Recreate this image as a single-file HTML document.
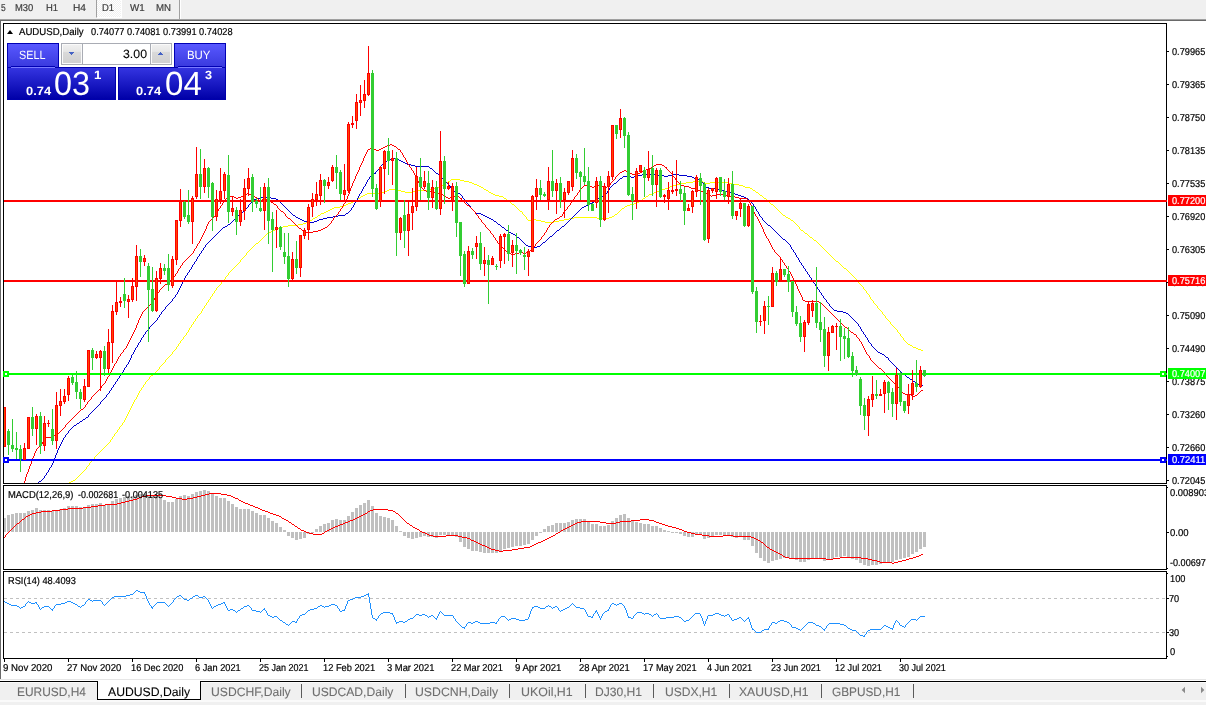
<!DOCTYPE html>
<html><head><meta charset="utf-8"><title>AUDUSD,Daily</title>
<style>
html,body{margin:0;padding:0;background:#fff;}
body{width:1206px;height:705px;position:relative;overflow:hidden;font-family:"Liberation Sans",sans-serif;color:#000;}
div{position:absolute;white-space:nowrap;}
#tb{left:0;top:0;width:1206px;height:19px;background:#f0f0f0;}
#tbl1{left:0;top:19px;width:1206px;height:1px;background:#a0a0a0;}
#tbl2{left:0;top:20px;width:1206px;height:1px;background:#696969;}
#lb{left:0;top:20px;width:1px;height:659px;background:#696969;}
.tf{top:2px;font-size:10.5px;color:#3c3c3c;line-height:12px;}
#d1{left:96px;top:0;width:26px;height:18px;background:repeating-conic-gradient(#fff 0% 25%,#f0f0f0 0% 50%) 0 0/2px 2px;border-left:1px solid #a0a0a0;border-right:1px solid #fff;border-bottom:1px solid #fff;box-sizing:border-box;}
#tsep{left:179px;top:0;width:1px;height:19px;background:#a0a0a0;}
#tsep2{left:180px;top:0;width:1px;height:19px;background:#fff;}
svg{position:absolute;left:0;top:0;}
.t{-webkit-text-stroke:0.2px currentColor;text-rendering:geometricPrecision;}
.ax{left:1172px;font-size:9.5px;line-height:12px;height:12px;}
.ax2{left:1170px;}
.axb{left:1168px;width:38px;height:11px;color:#fff;}
.axb span{position:absolute;left:4px;top:-0.5px;font-size:9.5px;line-height:12px;}
.dt{top:662px;font-size:9.5px;line-height:12px;}
#title{left:20px;top:26px;font-size:10px;line-height:12px;}
#tri{left:6.8px;top:29.8px;width:0;height:0;border-left:3.7px solid transparent;border-right:3.7px solid transparent;border-bottom:4.2px solid #000;}
#macdt{left:9px;top:489px;font-size:10px;line-height:12px;}
#rsit{left:9px;top:575px;font-size:10px;line-height:12px;}
#tabbar{left:0;top:679px;width:1206px;height:26px;background:#f0f0f0;border-top:1px solid #e6e6e6;box-sizing:border-box;}
#tabgap{left:0;top:680px;width:1206px;height:1px;background:#fff;}
#tabhl{left:0;top:682px;width:1206px;height:1px;background:#fbfbfb;}
#tabbot{left:0;top:700px;width:1206px;height:2px;background:#fafafa;}
#tabline{left:0;top:681px;width:1206px;height:1px;background:#000;}
#tableft{left:0;top:681px;width:1px;height:18px;background:#696969;}
.tab{top:683px;height:16px;font-size:11.5px;line-height:16px;color:#7a7a7a;text-align:center;}
.tab span{display:inline-block;}
.sep{top:684px;width:1px;height:14px;background:#5a5a5a;}
#atab{left:97px;top:681px;width:104px;height:19px;background:#fff;border:1px solid #000;border-top:none;box-sizing:border-box;}
#atabtop{left:98px;top:680px;width:102px;height:2px;background:#fff;}
#atabt{left:108px;top:683px;font-size:11.5px;line-height:16px;color:#000;}
.arr{top:686px;width:0;height:0;border-top:4px solid transparent;border-bottom:4px solid transparent;}
/* trade panel */
#sellb{left:7px;top:43px;width:52px;height:25px;background:linear-gradient(#5858ff,#3838dc);border:1px solid #0000b4;border-bottom:none;box-sizing:border-box;}
#buyb{left:174px;top:43px;width:52px;height:25px;background:linear-gradient(#5858ff,#3838dc);border:1px solid #0000b4;border-bottom:none;box-sizing:border-box;}
#sellp{left:7px;top:67px;width:109px;height:33px;background:linear-gradient(#3434e0,#0000a8);border:1px solid #0000ac;box-sizing:border-box;}
#buyp{left:118px;top:67px;width:108px;height:33px;background:linear-gradient(#3434e0,#0000a8);border:1px solid #0000ac;box-sizing:border-box;}
.pl{height:1px;background:#7a7aff;top:67px;border-top:1px solid #0000b4;margin-top:-1px;}
.bt{color:#fff;font-size:11.5px;line-height:14px;top:48px;}
.sm{color:#fff;font-weight:bold;font-size:12px;line-height:14px;top:84px;}
.big{color:#fff;font-size:33px;line-height:34px;top:65px;transform-origin:0 0;transform:scaleX(0.88);}
.sup{color:#fff;font-weight:bold;font-size:10px;line-height:12px;top:69px;}
#spin{left:61px;top:43px;width:111px;height:22px;background:#fff;border:1px solid #a9acb4;box-sizing:border-box;}
.sbtn{top:44px;width:20px;height:20px;background:linear-gradient(#f0f0f0,#e6e6e6 36%,#dadada 37%,#d0d0d0);border:1px solid #fafafa;box-sizing:border-box;}
.ssep{top:44px;width:1px;height:20px;background:#a9acb4;}
#vol{left:100px;width:47px;text-align:right;top:46px;font-size:12px;line-height:14px;}
</style></head><body>
<div id="tb"></div><div id="tbl1"></div><div id="tbl2"></div><div id="lb"></div>
<div id="d1"></div><div id="tsep"></div><div id="tsep2"></div>
<svg width="1206" height="705" viewBox="0 0 1206 705">
<defs><clipPath id="cm"><rect x="4" y="24" width="1162" height="459"/></clipPath></defs>
<g clip-path="url(#cm)" shape-rendering="crispEdges">
<path d="M63 485.5h2M65 484.5h2M67 483.5h2M69 482.5h2M71 481.5h2M73 480.5h2M75 479.5h1M76 478.5h1M77 477.5h1M78 476.5h1M79 475.5h1M80 474.5h1M81 473.5h1M82 472.5h1M83 471.5h1M84 470.5h1M85 469.5h1M86.5 467v2M87 466.5h1M88 465.5h1M89.5 463v2M90 462.5h1M91 461.5h1M92 460.5h1M93 459.5h1M94.5 457v2M95 456.5h1M96 455.5h1M97 454.5h1M98 453.5h1M99 452.5h1M100 451.5h1M101 450.5h1M102 449.5h1M103 448.5h1M104 447.5h1M105 446.5h1M106 445.5h1M107 444.5h1M108 443.5h1M109 442.5h1M110.5 440v2M111 439.5h1M112.5 437v2M113 436.5h1M114.5 434v2M115 433.5h1M116 432.5h1M117.5 430v2M118 429.5h1M119.5 427v2M120 426.5h1M121 425.5h1M122.5 423v2M123 422.5h1M124.5 420v2M125.5 418v2M126.5 416v2M127.5 414v2M128.5 412v2M129.5 410v2M130.5 408v2M131.5 406v2M132.5 404v2M133.5 402v2M134.5 400v2M135 399.5h1M136.5 397v2M137.5 395v2M138.5 393v2M139.5 391v2M140 390.5h1M141.5 388v2M142 387.5h1M143.5 385v2M144 384.5h1M145.5 382v2M146 381.5h1M147 380.5h1M148 379.5h1M149.5 377v2M150 376.5h1M151 375.5h2M153 374.5h1M154 373.5h1M155 372.5h1M156 371.5h1M157 370.5h1M158 369.5h1M159.5 367v2M160 366.5h1M161 365.5h1M162 364.5h1M163 363.5h1M164 362.5h1M165.5 360v2M166 359.5h1M167 358.5h1M168 357.5h1M169 356.5h1M170 355.5h1M171 354.5h1M172.5 352v2M173 351.5h1M174 350.5h1M175 349.5h1M176.5 347v2M177 346.5h1M178.5 344v2M179 343.5h1M180.5 341v2M181 340.5h1M182 339.5h1M183.5 337v2M184 336.5h1M185 335.5h1M186.5 333v2M187 332.5h1M188.5 330v2M189.5 328v2M190 327.5h1M191.5 325v2M192 324.5h1M193.5 322v2M194 321.5h1M195.5 319v2M196 318.5h1M197.5 316v2M198 315.5h1M199 314.5h1M200 313.5h1M201.5 311v2M202.5 309v2M203 308.5h1M204.5 306v2M205 305.5h1M206.5 303v2M207 302.5h1M208.5 300v2M209 299.5h1M210.5 297v2M211 296.5h1M212.5 294v2M213 293.5h1M214.5 291v2M215 290.5h1M216.5 288v2M217 287.5h1M218 286.5h1M219 285.5h1M220 284.5h1M221.5 282v2M222 281.5h1M223 280.5h1M224 279.5h1M225.5 277v2M226 276.5h1M227 275.5h1M228.5 273v2M229 272.5h1M230 271.5h1M231 270.5h1M232 269.5h1M233 268.5h1M234 267.5h1M235 266.5h1M236 265.5h1M237 264.5h1M238 263.5h1M239 262.5h1M240.5 260v2M241 259.5h1M242 258.5h1M243 257.5h1M244 256.5h1M245 255.5h1M246.5 253v2M247 252.5h1M248 251.5h1M249 250.5h1M250 249.5h1M251 248.5h1M252 247.5h1M253 246.5h1M254 245.5h1M255 244.5h1M256 243.5h2M258 242.5h1M259 241.5h1M260 240.5h1M261 239.5h1M262 238.5h1M263 237.5h1M264 236.5h1M265 235.5h1M266 234.5h1M267 233.5h2M269 232.5h2M271 231.5h2M273 230.5h2M275 229.5h2M277 228.5h3M280 227.5h3M283 226.5h5M288 225.5h10M298 224.5h5M303 223.5h3M306 222.5h2M308 221.5h2M310 220.5h2M312 219.5h1M313 218.5h2M315 217.5h2M317 216.5h1M318 215.5h2M320 214.5h1M321 213.5h3M324 212.5h2M326 211.5h2M328 210.5h2M330 209.5h2M332 208.5h2M334 207.5h6M340 206.5h4M344 205.5h2M346 204.5h2M348 203.5h3M351 202.5h2M353 201.5h2M355 200.5h2M357 199.5h1M358 198.5h2M360 197.5h1M361 196.5h2M363 195.5h2M365 194.5h2M367 193.5h14M381 192.5h4M385 191.5h2M387 190.5h2M389 189.5h9M398 190.5h3M401 191.5h4M405 192.5h7M412 191.5h3M415 190.5h14M429 189.5h4M433 188.5h4M437 187.5h3M440 186.5h2M442 185.5h1M443 184.5h2M445 183.5h1M446 182.5h2M448 181.5h2M450 180.5h1M451 179.5h9M460 180.5h4M464 181.5h5M469 182.5h3M472 183.5h2M474 184.5h3M477 185.5h2M479 186.5h2M481 187.5h2M483 188.5h1M484 189.5h2M486 190.5h2M488 191.5h1M489 192.5h2M491 193.5h2M493 194.5h2M495 195.5h4M499 196.5h4M503 197.5h1M504 198.5h2M506 199.5h1M507 200.5h1M508 201.5h2M510 202.5h1M511 203.5h1M512 204.5h2M514 205.5h1M515 206.5h1M516 207.5h1M517 208.5h1M518 209.5h1M519 210.5h1M520 211.5h2M522.5 212v2M523 214.5h1M524 215.5h1M525 216.5h1M526.5 217v2M527 219.5h1M528 220.5h5M533 219.5h3M536 220.5h5M541 221.5h4M545 222.5h9M554 221.5h5M559 220.5h5M564 219.5h5M569 218.5h5M574 217.5h23M597 218.5h12M609 217.5h3M612 216.5h2M614 215.5h1M615 214.5h2M617 213.5h1M618 212.5h1M619 211.5h1M620 210.5h1M621 209.5h1M622 208.5h2M624 207.5h1M625 206.5h2M627 205.5h3M630 204.5h4M634 203.5h3M637 202.5h2M639 201.5h2M641 200.5h1M642 199.5h1M643 198.5h2M645 197.5h1M646 196.5h2M648 195.5h1M649 194.5h3M652 193.5h2M654 192.5h3M657 191.5h3M660 190.5h2M662 189.5h3M665 188.5h3M668 187.5h2M670 186.5h3M673 185.5h3M676 184.5h4M680 183.5h6M686 182.5h7M693 181.5h10M703 182.5h2M705 183.5h5M710 182.5h18M728 183.5h5M733 184.5h6M739 185.5h4M743 186.5h2M745 187.5h5M750 188.5h2M752 189.5h1M753 190.5h2M755 191.5h1M756 192.5h2M758 193.5h1M759 194.5h1M760 195.5h2M762 196.5h1M763 197.5h1M764 198.5h2M766 199.5h1M767 200.5h1M768 201.5h1M769 202.5h1M770 203.5h1M771 204.5h2M773 205.5h1M774 206.5h1M775 207.5h1M776 208.5h1M777 209.5h1M778 210.5h1M779 211.5h1M780 212.5h1M781 213.5h1M782 214.5h1M783 215.5h2M785 216.5h1M786 217.5h2M788 218.5h2M790 219.5h1M791 220.5h2M793 221.5h1M794 222.5h1M795 223.5h1M796 224.5h1M797 225.5h1M798 226.5h1M799.5 227v2M800 229.5h1M801 230.5h2M803 231.5h1M804 232.5h1M805 233.5h2M807 234.5h1M808 235.5h1M809 236.5h1M810 237.5h2M812 238.5h1M813 239.5h1M814 240.5h2M816 241.5h1M817 242.5h1M818 243.5h1M819 244.5h1M820 245.5h1M821 246.5h1M822 247.5h1M823 248.5h1M824 249.5h1M825 250.5h1M826 251.5h1M827 252.5h1M828 253.5h1M829 254.5h1M830 255.5h1M831 256.5h1M832 257.5h1M833 258.5h1M834 259.5h1M835 260.5h1M836 261.5h2M838 262.5h1M839 263.5h1M840 264.5h1M841 265.5h1M842 266.5h1M843 267.5h1M844 268.5h2M846 269.5h1M847 270.5h1M848 271.5h1M849 272.5h1M850 273.5h1M851 274.5h1M852 275.5h1M853 276.5h1M854 277.5h1M855 278.5h1M856.5 279v2M857 281.5h1M858 282.5h1M859 283.5h1M860 284.5h1M861 285.5h1M862 286.5h1M863.5 287v2M864 289.5h1M865 290.5h1M866.5 291v2M867 293.5h1M868 294.5h1M869.5 295v2M870.5 297v2M871 299.5h1M872 300.5h1M873.5 301v2M874 303.5h1M875 304.5h1M876 305.5h1M877.5 306v2M878 308.5h1M879 309.5h1M880 310.5h1M881 311.5h1M882.5 312v2M883 314.5h1M884 315.5h1M885.5 316v2M886 318.5h1M887 319.5h1M888 320.5h1M889 321.5h1M890.5 322v2M891 324.5h1M892 325.5h1M893 326.5h1M894 327.5h1M895 328.5h1M896 329.5h1M897.5 330v2M898 332.5h1M899 333.5h1M900.5 334v2M901 336.5h1M902 337.5h1M903.5 338v2M904 340.5h1M905 341.5h1M906 342.5h1M907 343.5h1M908 344.5h2M910 345.5h2M912 346.5h1M913 347.5h3M916 348.5h2M918 349.5h3M921 350.5h2" fill="none" stroke="#ffff00" stroke-width="1"/>
<path d="M35 485.5h1M36 484.5h1M37 483.5h1M38 482.5h1M39 481.5h2M41 480.5h1M42 479.5h1M43 478.5h1M44.5 476v2M45 475.5h1M46.5 473v2M47 472.5h1M48.5 470v2M49.5 468v2M50 467.5h1M51.5 465v2M52.5 463v2M53.5 461v2M54.5 458v3M55.5 455v3M56.5 453v2M57.5 450v3M58.5 448v2M59.5 446v2M60.5 444v2M61.5 442v2M62.5 440v2M63.5 438v2M64 437.5h1M65.5 435v2M66 434.5h1M67 433.5h1M68.5 431v2M69 430.5h1M70 429.5h1M71 428.5h1M72 427.5h1M73 426.5h1M74 425.5h2M76 424.5h1M77 423.5h2M79 422.5h1M80 421.5h2M82 420.5h1M83 419.5h2M85 418.5h1M86 417.5h2M88.5 415v2M89 414.5h1M90 413.5h1M91 412.5h1M92 411.5h1M93 410.5h1M94 409.5h1M95 408.5h1M96 407.5h1M97 406.5h1M98 405.5h1M99 404.5h1M100.5 402v2M101 401.5h1M102 400.5h1M103 399.5h1M104 398.5h1M105 397.5h1M106.5 395v2M107 394.5h1M108 393.5h1M109.5 391v2M110 390.5h1M111.5 388v2M112 387.5h1M113.5 385v2M114 384.5h1M115.5 382v2M116 381.5h1M117.5 379v2M118 378.5h1M119.5 376v2M120 375.5h1M121.5 373v2M122 372.5h1M123.5 370v2M124.5 368v2M125 367.5h1M126.5 365v2M127 364.5h1M128.5 362v2M129.5 360v2M130.5 358v2M131.5 355v3M132 354.5h1M133.5 352v2M134.5 350v2M135.5 348v2M136 347.5h1M137.5 345v2M138.5 343v2M139 342.5h1M140.5 340v2M141.5 338v2M142 337.5h1M143.5 335v2M144 334.5h1M145.5 332v2M146 331.5h1M147 330.5h1M148 329.5h1M149.5 327v2M150 326.5h1M151 325.5h1M152 324.5h1M153 323.5h1M154 322.5h1M155 321.5h1M156 320.5h1M157.5 318v2M158 317.5h1M159.5 315v2M160 314.5h1M161.5 312v2M162 311.5h1M163 310.5h1M164 309.5h1M165.5 307v2M166 306.5h1M167 305.5h1M168 304.5h1M169 303.5h1M170 302.5h1M171 301.5h1M172.5 299v2M173 298.5h1M174 297.5h1M175.5 295v2M176 294.5h1M177.5 292v2M178.5 290v2M179.5 288v2M180.5 286v2M181.5 284v2M182.5 282v2M183.5 280v2M184.5 278v2M185.5 276v2M186 275.5h1M187.5 273v2M188 272.5h1M189.5 270v2M190 269.5h1M191.5 267v2M192.5 265v2M193 264.5h1M194.5 262v2M195 261.5h1M196.5 259v2M197.5 257v2M198 256.5h1M199.5 254v2M200 253.5h1M201.5 251v2M202 250.5h1M203.5 248v2M204 247.5h1M205.5 245v2M206 244.5h1M207 243.5h1M208 242.5h1M209 241.5h1M210 240.5h1M211 239.5h1M212 238.5h1M213 237.5h1M214 236.5h1M215 235.5h1M216 234.5h1M217 233.5h1M218 232.5h1M219 231.5h1M220 230.5h1M221 229.5h1M222 228.5h1M223 227.5h2M225 226.5h2M227 225.5h1M228 224.5h2M230 223.5h1M231 222.5h1M232 221.5h1M233 220.5h1M234 219.5h2M236.5 217v2M237 216.5h1M238 215.5h1M239 214.5h1M240 213.5h1M241 212.5h2M243 211.5h1M244 210.5h1M245 209.5h1M246 208.5h1M247 207.5h1M248.5 205v2M249 204.5h1M250 203.5h1M251 202.5h1M252 201.5h1M253 200.5h1M254 199.5h2M256 198.5h4M260 197.5h11M271 198.5h5M276 199.5h2M278 200.5h1M279 201.5h1M280 202.5h1M281 203.5h1M282 204.5h1M283 205.5h1M284 206.5h1M285 207.5h1M286 208.5h1M287 209.5h1M288 210.5h1M289 211.5h1M290 212.5h1M291 213.5h1M292 214.5h1M293 215.5h2M295 216.5h1M296 217.5h2M298 218.5h2M300 219.5h2M302 220.5h2M304 221.5h4M308 222.5h6M314 221.5h3M317 220.5h2M319 219.5h4M323 218.5h4M327 217.5h6M333 216.5h5M338 215.5h7M345 214.5h1M346 213.5h2M348 212.5h1M349 211.5h1M350 210.5h1M351.5 208v2M352 207.5h1M353.5 205v2M354.5 203v2M355 202.5h1M356.5 200v2M357.5 198v2M358.5 196v2M359.5 194v2M360 193.5h1M361.5 191v2M362.5 189v2M363.5 187v2M364 186.5h1M365.5 184v2M366.5 182v2M367.5 180v2M368 179.5h1M369.5 177v2M370 176.5h2M372 175.5h1M373 174.5h1M374 173.5h1M375.5 172v2M376 171.5h1M377 170.5h1M378 169.5h1M379.5 167v2M380 166.5h1M381 165.5h1M382 164.5h1M383 163.5h1M384 162.5h1M385 161.5h2M387 160.5h2M389 159.5h2M391 158.5h6M397 159.5h2M399 160.5h2M401 161.5h2M403 162.5h2M405 163.5h2M407 164.5h4M411 165.5h4M415 166.5h14M429 167.5h1M430 168.5h2M432 169.5h1M433 170.5h1M434 171.5h1M435 172.5h1M436 173.5h2M438 174.5h1M439 175.5h1M440 176.5h1M441 177.5h1M442 178.5h1M443 179.5h1M444 180.5h1M445 181.5h1M446 182.5h1M447 183.5h1M448 184.5h1M449 185.5h1M450.5 186v2M451 188.5h1M452 189.5h1M453 190.5h1M454 191.5h1M455 192.5h3M458 193.5h2M460 194.5h1M461 195.5h1M462.5 196v2M463 198.5h1M464 199.5h1M465.5 200v2M466 202.5h1M467 203.5h1M468 204.5h1M469 205.5h1M470.5 206v2M471 208.5h1M472 209.5h1M473 210.5h1M474 211.5h1M475 212.5h1M476 213.5h5M481 214.5h2M483 215.5h2M485 216.5h2M487 217.5h2M489 218.5h2M491 219.5h2M493 220.5h1M494 221.5h2M496 222.5h1M497 223.5h1M498 224.5h2M500 225.5h1M501 226.5h1M502 227.5h2M504 228.5h1M505 229.5h1M506 230.5h2M508 231.5h1M509 232.5h2M511 233.5h2M513 234.5h2M515 235.5h1M516 236.5h1M517 237.5h2M519 238.5h1M520 239.5h1M521 240.5h1M522 241.5h1M523 242.5h1M524 243.5h1M525 244.5h1M526 245.5h2M528 246.5h6M534 247.5h3M537 246.5h3M540 245.5h1M541 244.5h1M542 243.5h1M543 242.5h2M545 241.5h1M546 240.5h1M547 239.5h1M548 238.5h1M549 237.5h1M550 236.5h2M552 235.5h1M553 234.5h1M554 233.5h1M555 232.5h1M556 231.5h1M557 230.5h2M559 229.5h1M560 228.5h1M561 227.5h1M562 226.5h2M564 225.5h1M565 224.5h1M566 223.5h1M567 222.5h1M568 221.5h1M569 220.5h1M570 219.5h1M571 218.5h1M572 217.5h1M573 216.5h1M574 215.5h1M575 214.5h1M576 213.5h1M577 212.5h1M578 211.5h1M579 210.5h1M580 209.5h1M581 208.5h1M582 207.5h2M584 206.5h2M586 205.5h2M588 204.5h2M590 203.5h2M592 202.5h2M594 201.5h1M595 200.5h1M596 199.5h2M598 198.5h1M599 197.5h2M601 196.5h2M603 195.5h2M605 194.5h1M606 193.5h1M607.5 191v2M608 190.5h1M609.5 188v2M610 187.5h1M611 186.5h1M612 185.5h1M613 184.5h1M614 183.5h2M616 182.5h1M617 181.5h1M618 180.5h1M619 179.5h1M620 178.5h2M622 177.5h1M623 176.5h8M631 177.5h3M634 176.5h2M636 175.5h6M642 174.5h16M658 175.5h6M664 176.5h4M668 175.5h5M673 174.5h6M679 175.5h8M687 176.5h5M692 177.5h2M694 178.5h3M697 179.5h2M699 180.5h2M701 181.5h1M702 182.5h1M703 183.5h1M704.5 184v2M705 186.5h1M706 187.5h3M709 188.5h8M717 189.5h4M721 190.5h4M725 191.5h4M729 192.5h3M732 193.5h3M735 194.5h3M738 195.5h3M741 196.5h3M744 197.5h2M746 198.5h2M748 199.5h1M749 200.5h1M750 201.5h1M751 202.5h1M752 203.5h1M753.5 204v2M754 206.5h1M755.5 207v2M756.5 209v2M757 211.5h1M758.5 212v2M759.5 214v2M760 216.5h1M761 217.5h1M762.5 218v2M763 220.5h1M764 221.5h1M765 222.5h1M766 223.5h1M767 224.5h1M768 225.5h2M770 226.5h1M771 227.5h1M772 228.5h1M773 229.5h1M774 230.5h1M775 231.5h1M776 232.5h1M777 233.5h1M778 234.5h1M779 235.5h1M780 236.5h1M781 237.5h1M782 238.5h1M783 239.5h2M785 240.5h1M786 241.5h1M787 242.5h1M788 243.5h1M789 244.5h1M790.5 245v2M791.5 247v2M792 249.5h1M793.5 250v2M794 252.5h1M795.5 253v2M796.5 255v2M797 257.5h1M798.5 258v2M799.5 260v2M800 262.5h1M801.5 263v2M802 265.5h1M803.5 266v2M804 268.5h1M805.5 269v2M806 271.5h1M807.5 272v2M808 274.5h1M809.5 275v2M810 277.5h1M811.5 278v2M812 280.5h1M813.5 281v2M814 283.5h1M815.5 284v2M816 286.5h1M817.5 287v2M818 289.5h1M819.5 290v2M820 292.5h1M821.5 293v2M822 295.5h1M823.5 296v2M824 298.5h1M825 299.5h1M826.5 300v2M827 302.5h1M828 303.5h1M829.5 304v2M830 306.5h1M831 307.5h1M832 308.5h1M833 309.5h1M834 310.5h3M837 311.5h6M843 312.5h3M846 313.5h2M848 314.5h1M849 315.5h1M850 316.5h1M851 317.5h1M852 318.5h1M853 319.5h1M854 320.5h1M855 321.5h1M856 322.5h1M857 323.5h1M858.5 324v2M859 326.5h1M860.5 327v2M861.5 329v2M862 331.5h1M863.5 332v2M864 334.5h1M865.5 335v2M866 337.5h1M867.5 338v2M868.5 340v2M869 342.5h1M870 343.5h1M871.5 344v2M872 346.5h1M873 347.5h1M874 348.5h1M875 349.5h1M876 350.5h1M877 351.5h1M878 352.5h2M880 353.5h2M882 354.5h2M884 355.5h1M885 356.5h1M886 357.5h2M888.5 358v2M889 360.5h1M890 361.5h1M891 362.5h1M892 363.5h1M893 364.5h1M894 365.5h1M895 366.5h1M896 367.5h1M897 368.5h1M898 369.5h1M899 370.5h1M900 371.5h1M901 372.5h1M902 373.5h1M903 374.5h2M905 375.5h1M906 376.5h1M907 377.5h2M909 378.5h1M910 379.5h2M912 380.5h1M913 381.5h2M915 382.5h2M917 383.5h1M918 384.5h4M922 385.5h1" fill="none" stroke="#0000cd" stroke-width="1"/>
<path d="M23.5 484v2M24.5 481v3M25.5 477v4M26.5 474v3M27.5 472v2M28.5 469v3M29.5 466v3M30.5 464v2M31.5 461v3M32.5 458v3M33.5 456v2M34.5 453v3M35.5 451v2M36.5 449v2M37 448.5h1M38 447.5h1M39 446.5h1M40 445.5h1M41 444.5h1M42.5 442v2M43 441.5h1M44.5 439v2M45 438.5h1M46 437.5h5M51 436.5h2M53 435.5h2M55 434.5h2M57 433.5h2M59 432.5h1M60 431.5h1M61 430.5h1M62 429.5h1M63 428.5h1M64 427.5h1M65.5 425v2M66 424.5h1M67 423.5h1M68 422.5h1M69 421.5h1M70 420.5h1M71 419.5h1M72 418.5h1M73 417.5h1M74 416.5h1M75 415.5h1M76 414.5h1M77 413.5h1M78 412.5h1M79 411.5h1M80 410.5h1M81 409.5h2M83 408.5h1M84 407.5h1M85.5 405v2M86 404.5h1M87.5 402v2M88 401.5h1M89 400.5h1M90 399.5h1M91.5 397v2M92 396.5h1M93 395.5h1M94 394.5h1M95 393.5h1M96 392.5h1M97 391.5h1M98 390.5h1M99 389.5h1M100 388.5h1M101.5 386v2M102 385.5h1M103 384.5h1M104 383.5h1M105.5 381v2M106.5 379v2M107.5 377v2M108 376.5h1M109.5 374v2M110.5 372v2M111.5 370v2M112.5 368v2M113.5 366v2M114.5 364v2M115 363.5h1M116.5 361v2M117.5 359v2M118.5 357v2M119 356.5h1M120.5 354v2M121 353.5h1M122 352.5h1M123.5 350v2M124 349.5h1M125 348.5h1M126.5 346v2M127.5 344v2M128.5 342v2M129.5 340v2M130.5 338v2M131.5 336v2M132.5 334v2M133.5 332v2M134.5 330v2M135.5 328v2M136.5 325v3M137.5 323v2M138.5 320v3M139.5 318v2M140.5 316v2M141.5 314v2M142.5 312v2M143 311.5h1M144 310.5h1M145 309.5h1M146 308.5h1M147 307.5h1M148 306.5h1M149 305.5h1M150 304.5h1M151 303.5h1M152 302.5h1M153.5 300v2M154.5 298v2M155 297.5h1M156.5 295v2M157.5 293v2M158 292.5h1M159.5 290v2M160 289.5h1M161 288.5h1M162 287.5h1M163 286.5h1M164 285.5h1M165 284.5h2M167 283.5h2M169 282.5h1M170 281.5h1M171 280.5h1M172 279.5h1M173.5 277v2M174 276.5h1M175.5 274v2M176 273.5h1M177.5 271v2M178.5 269v2M179 268.5h1M180.5 266v2M181 265.5h1M182.5 263v2M183 262.5h1M184 261.5h1M185 260.5h1M186 259.5h1M187 258.5h1M188 257.5h1M189 256.5h1M190 255.5h1M191 254.5h1M192 253.5h1M193.5 251v2M194.5 249v2M195 248.5h1M196.5 246v2M197.5 244v2M198 243.5h1M199.5 241v2M200.5 239v2M201.5 237v2M202.5 235v2M203.5 233v2M204.5 231v2M205.5 229v2M206.5 226v3M207.5 224v2M208.5 222v2M209 221.5h1M210 220.5h1M211 219.5h1M212 218.5h1M213 217.5h1M214 216.5h1M215.5 214v2M216 213.5h1M217.5 211v2M218.5 209v2M219 208.5h1M220.5 206v2M221 205.5h1M222.5 203v2M223 202.5h1M224 201.5h1M225.5 199v2M226 198.5h2M228 197.5h1M229 196.5h5M234 197.5h2M236 198.5h2M238 197.5h3M241 196.5h3M244 195.5h2M246 194.5h1M247 193.5h2M249 194.5h2M251 195.5h2M253 196.5h2M255 197.5h2M257 198.5h1M258 199.5h1M259 200.5h3M262 199.5h5M267 200.5h2M269 201.5h2M271 202.5h2M273 203.5h1M274 204.5h2M276 205.5h1M277.5 206v2M278 208.5h1M279 209.5h1M280 210.5h1M281 211.5h2M283 212.5h1M284 213.5h1M285.5 214v2M286 216.5h1M287 217.5h1M288 218.5h2M290 219.5h1M291 220.5h1M292 221.5h1M293 222.5h1M294 223.5h1M295 224.5h1M296 225.5h1M297 226.5h1M298 227.5h1M299 228.5h2M301 229.5h1M302 230.5h1M303 231.5h2M305 232.5h8M313 231.5h5M318 230.5h3M321 229.5h2M323 228.5h2M325 227.5h2M327 226.5h1M328 225.5h1M329 224.5h1M330 223.5h1M331.5 221v2M332 220.5h1M333.5 218v2M334 217.5h1M335 216.5h1M336 215.5h1M337 214.5h1M338.5 212v2M339 211.5h1M340.5 209v2M341 208.5h1M342.5 206v2M343.5 204v2M344 203.5h1M345.5 201v2M346.5 199v2M347.5 196v3M348.5 194v2M349.5 191v3M350.5 188v3M351.5 186v2M352.5 183v3M353.5 181v2M354.5 179v2M355.5 176v3M356.5 174v2M357.5 172v2M358.5 170v2M359.5 167v3M360.5 165v2M361.5 163v2M362.5 161v2M363.5 158v3M364.5 156v2M365.5 154v2M366.5 152v2M367.5 150v2M368 149.5h2M370 148.5h4M374 149.5h2M376 150.5h3M379 149.5h2M381 148.5h2M383 147.5h2M385 146.5h2M387 145.5h3M390 144.5h2M392 145.5h2M394 146.5h2M396 147.5h1M397 148.5h1M398 149.5h2M400.5 150v2M401 152.5h1M402.5 153v2M403.5 155v2M404 157.5h1M405.5 158v2M406.5 160v2M407.5 162v2M408 164.5h1M409.5 165v2M410 167.5h1M411.5 168v2M412 170.5h1M413.5 171v2M414.5 173v2M415.5 175v2M416.5 177v2M417.5 179v2M418.5 181v2M419.5 183v2M420.5 185v2M421 187.5h1M422 188.5h1M423 189.5h1M424 190.5h2M426 191.5h6M432 192.5h5M437 193.5h3M440 194.5h3M443 195.5h1M444 196.5h2M446 197.5h2M448 198.5h2M450 197.5h1M451 196.5h8M459 197.5h1M460 198.5h1M461.5 198v2M462 200.5h1M463 201.5h1M464 202.5h1M465 203.5h1M466 204.5h1M467 205.5h2M469 206.5h1M470 207.5h1M471 208.5h1M472 209.5h1M473 210.5h1M474 211.5h1M475.5 212v2M476 214.5h1M477 215.5h1M478.5 216v2M479 218.5h1M480 219.5h1M481.5 220v2M482 222.5h1M483 223.5h1M484 224.5h1M485.5 225v2M486 227.5h1M487 228.5h1M488 229.5h1M489 230.5h1M490.5 231v2M491 233.5h1M492 234.5h1M493.5 235v2M494 237.5h1M495.5 238v2M496 240.5h1M497.5 241v2M498 243.5h1M499 244.5h1M500 245.5h1M501 246.5h1M502 247.5h1M503 248.5h1M504 249.5h1M505 250.5h1M506 251.5h1M507 252.5h2M509 253.5h2M511 254.5h4M515 253.5h4M519 252.5h4M523 253.5h3M526 252.5h2M528 251.5h2M530 250.5h1M531 249.5h1M532 248.5h1M533 247.5h1M534 246.5h1M535.5 244v2M536 243.5h1M537 242.5h1M538 241.5h1M539 240.5h1M540 239.5h1M541.5 237v2M542 236.5h1M543 235.5h1M544.5 233v2M545 232.5h1M546.5 230v2M547.5 228v2M548 227.5h1M549.5 225v2M550 224.5h1M551 223.5h1M552 222.5h1M553 221.5h1M554 220.5h1M555 219.5h2M557 218.5h2M559 217.5h1M560 216.5h2M562.5 214v2M563.5 212v2M564 211.5h1M565 210.5h1M566 209.5h1M567.5 207v2M568 206.5h1M569 205.5h1M570.5 203v2M571 202.5h1M572.5 200v2M573 199.5h1M574.5 197v2M575 196.5h1M576 195.5h1M577.5 193v2M578 192.5h1M579.5 190v2M580 189.5h1M581 188.5h1M582 187.5h1M583 186.5h1M584 185.5h6M590 186.5h2M592 187.5h2M594 186.5h3M597 185.5h5M602 186.5h2M604 187.5h3M607 186.5h2M609 185.5h1M610.5 183v2M611 182.5h1M612 181.5h1M613 180.5h1M614 179.5h1M615.5 177v2M616 176.5h1M617 175.5h1M618 174.5h1M619 173.5h1M620 172.5h2M622 171.5h2M624 170.5h2M626 171.5h3M629 172.5h1M630 173.5h2M632 174.5h5M637 173.5h3M640 172.5h2M642 171.5h2M644 170.5h2M646 169.5h2M648 168.5h3M651 167.5h2M653 166.5h1M654 165.5h2M656 164.5h6M662 165.5h2M664 166.5h1M665 167.5h1M666.5 167v2M667 169.5h1M668 170.5h1M669 171.5h1M670 172.5h1M671 173.5h1M672.5 174v2M673 176.5h1M674 177.5h1M675.5 178v2M676 180.5h1M677 181.5h1M678 182.5h1M679 183.5h1M680 184.5h1M681 185.5h3M684 186.5h5M689 187.5h2M691 188.5h4M695 189.5h3M698 190.5h2M700 191.5h3M703 192.5h3M706 193.5h2M708 194.5h1M709 195.5h2M711 196.5h1M712 195.5h4M716 194.5h8M724 195.5h6M730 196.5h5M735 197.5h4M739 198.5h8M747 199.5h1M748 200.5h1M749.5 201v2M750.5 203v2M751.5 205v2M752.5 207v2M753.5 209v3M754.5 212v2M755.5 214v2M756 216.5h1M757.5 217v2M758.5 219v2M759.5 221v2M760.5 223v2M761.5 225v2M762.5 227v2M763.5 229v3M764.5 232v2M765.5 234v2M766.5 236v2M767 238.5h1M768.5 239v2M769.5 241v2M770.5 243v2M771.5 245v2M772.5 247v2M773 249.5h1M774.5 250v2M775 252.5h1M776 253.5h1M777 254.5h1M778 255.5h1M779 256.5h1M780.5 257v2M781 259.5h1M782.5 260v2M783 262.5h1M784.5 263v2M785 265.5h1M786.5 266v2M787 268.5h1M788.5 269v2M789 271.5h1M790.5 272v2M791.5 274v2M792.5 276v2M793.5 278v2M794.5 280v2M795.5 282v2M796.5 284v2M797.5 286v3M798.5 289v2M799.5 291v2M800.5 293v2M801.5 295v2M802.5 297v3M803 300.5h2M805 301.5h14M819 302.5h2M821 303.5h1M822 304.5h1M823 305.5h1M824 306.5h1M825 307.5h1M826 308.5h1M827 309.5h1M828 310.5h1M829 311.5h1M830 312.5h1M831 313.5h1M832 314.5h1M833 315.5h1M834 316.5h1M835 317.5h1M836 318.5h1M837 319.5h1M838 320.5h1M839 321.5h1M840 322.5h1M841 323.5h1M842 324.5h1M843 325.5h1M844 326.5h1M845 327.5h2M847 328.5h1M848 329.5h1M849 330.5h1M850 331.5h1M851 332.5h2M853 333.5h1M854 334.5h2M856.5 335v2M857 337.5h1M858 338.5h1M859.5 339v2M860 341.5h1M861.5 342v2M862.5 344v2M863.5 346v2M864.5 348v2M865.5 350v2M866.5 352v2M867 354.5h1M868 355.5h1M869.5 356v2M870.5 358v2M871 360.5h1M872 361.5h1M873 362.5h1M874 363.5h1M875 364.5h1M876 365.5h1M877 366.5h1M878 367.5h1M879 368.5h2M881 369.5h1M882 370.5h1M883 371.5h1M884 372.5h1M885 373.5h1M886.5 374v2M887 376.5h1M888 377.5h1M889 378.5h1M890 379.5h1M891 380.5h1M892 381.5h1M893 382.5h1M894 383.5h1M895 384.5h2M897.5 385v2M898 387.5h1M899 388.5h1M900 389.5h1M901.5 390v2M902 392.5h1M903 393.5h2M905 394.5h6M911 395.5h1M912 396.5h3M915 395.5h2M917 394.5h1M918 393.5h1M919 392.5h1M920 391.5h1M921 390.5h2" fill="none" stroke="#ff0000" stroke-width="1"/>
</g>
<g shape-rendering="crispEdges">
<rect x="4" y="200" width="1163" height="2" fill="#ff0000"/>
<rect x="4" y="280" width="1163" height="2" fill="#ff0000"/>
<rect x="4" y="373" width="1163" height="2" fill="#00ff00"/>
<rect x="4" y="459" width="1163" height="2" fill="#0000ff"/>
<rect x="3" y="371" width="6" height="6" fill="#00ff00"/>
<rect x="5" y="373" width="2" height="2" fill="#ffffff"/>
<rect x="1160" y="371" width="6" height="6" fill="#00ff00"/>
<rect x="1162" y="373" width="2" height="2" fill="#ffffff"/>
<rect x="3" y="457" width="6" height="6" fill="#0000ff"/>
<rect x="5" y="459" width="2" height="2" fill="#ffffff"/>
<rect x="1160" y="457" width="6" height="6" fill="#0000ff"/>
<rect x="1162" y="459" width="2" height="2" fill="#ffffff"/>
<line x1="4" y1="598.5" x2="1166" y2="598.5" stroke="#c0c0c0" stroke-width="1" stroke-dasharray="3,3"/>
<line x1="4" y1="632.5" x2="1166" y2="632.5" stroke="#c0c0c0" stroke-width="1" stroke-dasharray="3,3"/>
</g>
<g clip-path="url(#cm)" shape-rendering="crispEdges">
<rect x="4" y="407" width="1" height="40" fill="#ff0000"/>
<rect x="4" y="407" width="2" height="40" fill="#ff0000"/>
<rect x="4" y="408" width="1" height="38" fill="#ff4500"/>
<rect x="8" y="429" width="1" height="26" fill="#32cd32"/>
<rect x="7" y="431" width="3" height="14" fill="#32cd32"/>
<rect x="12" y="419" width="1" height="33" fill="#32cd32"/>
<rect x="11" y="445" width="3" height="4" fill="#32cd32"/>
<rect x="16" y="432" width="1" height="27" fill="#32cd32"/>
<rect x="15" y="448" width="3" height="2" fill="#32cd32"/>
<rect x="20" y="445" width="1" height="27" fill="#32cd32"/>
<rect x="19" y="449" width="3" height="10" fill="#32cd32"/>
<rect x="24" y="443" width="1" height="17" fill="#ff0000"/>
<rect x="23" y="448" width="3" height="12" fill="#ff0000"/>
<rect x="24" y="449" width="1" height="10" fill="#ff4500"/>
<rect x="28" y="417" width="1" height="32" fill="#ff0000"/>
<rect x="27" y="417" width="3" height="32" fill="#ff0000"/>
<rect x="28" y="418" width="1" height="30" fill="#ff4500"/>
<rect x="32" y="407" width="1" height="29" fill="#32cd32"/>
<rect x="31" y="417" width="3" height="12" fill="#32cd32"/>
<rect x="36" y="414" width="1" height="31" fill="#ff0000"/>
<rect x="35" y="416" width="3" height="13" fill="#ff0000"/>
<rect x="36" y="417" width="1" height="11" fill="#ff4500"/>
<rect x="40" y="412" width="1" height="42" fill="#32cd32"/>
<rect x="39" y="416" width="3" height="30" fill="#32cd32"/>
<rect x="44" y="416" width="1" height="35" fill="#ff0000"/>
<rect x="43" y="423" width="3" height="23" fill="#ff0000"/>
<rect x="44" y="424" width="1" height="21" fill="#ff4500"/>
<rect x="48" y="420" width="1" height="7" fill="#ff0000"/>
<rect x="47" y="423" width="3" height="1" fill="#ff0000"/>
<rect x="52" y="409" width="1" height="36" fill="#32cd32"/>
<rect x="51" y="429" width="3" height="12" fill="#32cd32"/>
<rect x="56" y="392" width="1" height="57" fill="#ff0000"/>
<rect x="55" y="405" width="3" height="36" fill="#ff0000"/>
<rect x="56" y="406" width="1" height="34" fill="#ff4500"/>
<rect x="60" y="389" width="1" height="27" fill="#ff0000"/>
<rect x="59" y="401" width="3" height="5" fill="#ff0000"/>
<rect x="60" y="402" width="1" height="3" fill="#ff4500"/>
<rect x="64" y="389" width="1" height="15" fill="#ff0000"/>
<rect x="63" y="396" width="3" height="6" fill="#ff0000"/>
<rect x="64" y="397" width="1" height="4" fill="#ff4500"/>
<rect x="68" y="376" width="1" height="25" fill="#ff0000"/>
<rect x="67" y="378" width="3" height="17" fill="#ff0000"/>
<rect x="68" y="379" width="1" height="15" fill="#ff4500"/>
<rect x="72" y="375" width="1" height="10" fill="#32cd32"/>
<rect x="71" y="377" width="3" height="6" fill="#32cd32"/>
<rect x="76" y="371" width="1" height="28" fill="#32cd32"/>
<rect x="75" y="382" width="3" height="10" fill="#32cd32"/>
<rect x="80" y="389" width="1" height="20" fill="#32cd32"/>
<rect x="79" y="392" width="3" height="7" fill="#32cd32"/>
<rect x="84" y="379" width="1" height="23" fill="#ff0000"/>
<rect x="83" y="386" width="3" height="14" fill="#ff0000"/>
<rect x="84" y="387" width="1" height="12" fill="#ff4500"/>
<rect x="88" y="350" width="1" height="37" fill="#ff0000"/>
<rect x="87" y="350" width="3" height="37" fill="#ff0000"/>
<rect x="88" y="351" width="1" height="35" fill="#ff4500"/>
<rect x="92" y="348" width="1" height="22" fill="#32cd32"/>
<rect x="91" y="350" width="3" height="8" fill="#32cd32"/>
<rect x="96" y="351" width="1" height="8" fill="#ff0000"/>
<rect x="95" y="354" width="3" height="4" fill="#ff0000"/>
<rect x="96" y="355" width="1" height="2" fill="#ff4500"/>
<rect x="100" y="350" width="1" height="41" fill="#ff0000"/>
<rect x="99" y="351" width="3" height="7" fill="#ff0000"/>
<rect x="100" y="352" width="1" height="5" fill="#ff4500"/>
<rect x="104" y="346" width="1" height="30" fill="#32cd32"/>
<rect x="103" y="351" width="3" height="18" fill="#32cd32"/>
<rect x="108" y="329" width="1" height="44" fill="#ff0000"/>
<rect x="107" y="342" width="3" height="27" fill="#ff0000"/>
<rect x="108" y="343" width="1" height="25" fill="#ff4500"/>
<rect x="112" y="305" width="1" height="58" fill="#ff0000"/>
<rect x="111" y="311" width="3" height="32" fill="#ff0000"/>
<rect x="112" y="312" width="1" height="30" fill="#ff4500"/>
<rect x="116" y="281" width="1" height="34" fill="#ff0000"/>
<rect x="115" y="302" width="3" height="10" fill="#ff0000"/>
<rect x="116" y="303" width="1" height="8" fill="#ff4500"/>
<rect x="120" y="297" width="1" height="10" fill="#ff0000"/>
<rect x="119" y="301" width="3" height="2" fill="#ff0000"/>
<rect x="124" y="278" width="1" height="30" fill="#32cd32"/>
<rect x="123" y="294" width="3" height="7" fill="#32cd32"/>
<rect x="128" y="295" width="1" height="23" fill="#ff0000"/>
<rect x="127" y="299" width="3" height="3" fill="#ff0000"/>
<rect x="128" y="300" width="1" height="1" fill="#ff4500"/>
<rect x="132" y="278" width="1" height="24" fill="#ff0000"/>
<rect x="131" y="286" width="3" height="14" fill="#ff0000"/>
<rect x="132" y="287" width="1" height="12" fill="#ff4500"/>
<rect x="136" y="245" width="1" height="56" fill="#ff0000"/>
<rect x="135" y="256" width="3" height="31" fill="#ff0000"/>
<rect x="136" y="257" width="1" height="29" fill="#ff4500"/>
<rect x="140" y="249" width="1" height="28" fill="#32cd32"/>
<rect x="139" y="256" width="3" height="6" fill="#32cd32"/>
<rect x="144" y="255" width="1" height="11" fill="#ff0000"/>
<rect x="143" y="258" width="3" height="4" fill="#ff0000"/>
<rect x="144" y="259" width="1" height="2" fill="#ff4500"/>
<rect x="148" y="263" width="1" height="79" fill="#32cd32"/>
<rect x="147" y="266" width="3" height="24" fill="#32cd32"/>
<rect x="152" y="267" width="1" height="45" fill="#32cd32"/>
<rect x="151" y="289" width="3" height="22" fill="#32cd32"/>
<rect x="156" y="271" width="1" height="41" fill="#ff0000"/>
<rect x="155" y="278" width="3" height="33" fill="#ff0000"/>
<rect x="156" y="279" width="1" height="31" fill="#ff4500"/>
<rect x="160" y="263" width="1" height="21" fill="#ff0000"/>
<rect x="159" y="268" width="3" height="11" fill="#ff0000"/>
<rect x="160" y="269" width="1" height="9" fill="#ff4500"/>
<rect x="164" y="264" width="1" height="11" fill="#32cd32"/>
<rect x="163" y="268" width="3" height="3" fill="#32cd32"/>
<rect x="168" y="254" width="1" height="37" fill="#32cd32"/>
<rect x="167" y="268" width="3" height="17" fill="#32cd32"/>
<rect x="172" y="256" width="1" height="32" fill="#ff0000"/>
<rect x="171" y="259" width="3" height="27" fill="#ff0000"/>
<rect x="172" y="260" width="1" height="25" fill="#ff4500"/>
<rect x="176" y="220" width="1" height="45" fill="#ff0000"/>
<rect x="175" y="220" width="3" height="40" fill="#ff0000"/>
<rect x="176" y="221" width="1" height="38" fill="#ff4500"/>
<rect x="180" y="189" width="1" height="38" fill="#ff0000"/>
<rect x="179" y="201" width="3" height="20" fill="#ff0000"/>
<rect x="180" y="202" width="1" height="18" fill="#ff4500"/>
<rect x="184" y="201" width="1" height="18" fill="#32cd32"/>
<rect x="183" y="202" width="3" height="15" fill="#32cd32"/>
<rect x="188" y="190" width="1" height="34" fill="#32cd32"/>
<rect x="187" y="215" width="3" height="7" fill="#32cd32"/>
<rect x="192" y="196" width="1" height="48" fill="#ff0000"/>
<rect x="191" y="198" width="3" height="24" fill="#ff0000"/>
<rect x="192" y="199" width="1" height="22" fill="#ff4500"/>
<rect x="196" y="147" width="1" height="52" fill="#ff0000"/>
<rect x="195" y="174" width="3" height="23" fill="#ff0000"/>
<rect x="196" y="175" width="1" height="21" fill="#ff4500"/>
<rect x="200" y="149" width="1" height="50" fill="#32cd32"/>
<rect x="199" y="174" width="3" height="13" fill="#32cd32"/>
<rect x="204" y="159" width="1" height="34" fill="#ff0000"/>
<rect x="203" y="168" width="3" height="19" fill="#ff0000"/>
<rect x="204" y="169" width="1" height="17" fill="#ff4500"/>
<rect x="208" y="167" width="1" height="31" fill="#32cd32"/>
<rect x="207" y="168" width="3" height="19" fill="#32cd32"/>
<rect x="212" y="182" width="1" height="49" fill="#32cd32"/>
<rect x="211" y="183" width="3" height="34" fill="#32cd32"/>
<rect x="216" y="190" width="1" height="31" fill="#ff0000"/>
<rect x="215" y="199" width="3" height="18" fill="#ff0000"/>
<rect x="216" y="200" width="1" height="16" fill="#ff4500"/>
<rect x="220" y="168" width="1" height="36" fill="#ff0000"/>
<rect x="219" y="191" width="3" height="9" fill="#ff0000"/>
<rect x="220" y="192" width="1" height="7" fill="#ff4500"/>
<rect x="224" y="172" width="1" height="27" fill="#ff0000"/>
<rect x="223" y="174" width="3" height="17" fill="#ff0000"/>
<rect x="224" y="175" width="1" height="15" fill="#ff4500"/>
<rect x="228" y="155" width="1" height="68" fill="#32cd32"/>
<rect x="227" y="175" width="3" height="37" fill="#32cd32"/>
<rect x="232" y="196" width="1" height="20" fill="#ff0000"/>
<rect x="231" y="208" width="3" height="4" fill="#ff0000"/>
<rect x="232" y="209" width="1" height="2" fill="#ff4500"/>
<rect x="236" y="207" width="1" height="28" fill="#32cd32"/>
<rect x="235" y="210" width="3" height="12" fill="#32cd32"/>
<rect x="240" y="199" width="1" height="27" fill="#ff0000"/>
<rect x="239" y="210" width="3" height="12" fill="#ff0000"/>
<rect x="240" y="211" width="1" height="10" fill="#ff4500"/>
<rect x="244" y="179" width="1" height="41" fill="#ff0000"/>
<rect x="243" y="188" width="3" height="23" fill="#ff0000"/>
<rect x="244" y="189" width="1" height="21" fill="#ff4500"/>
<rect x="248" y="168" width="1" height="28" fill="#ff0000"/>
<rect x="247" y="178" width="3" height="11" fill="#ff0000"/>
<rect x="248" y="179" width="1" height="9" fill="#ff4500"/>
<rect x="252" y="174" width="1" height="38" fill="#32cd32"/>
<rect x="251" y="177" width="3" height="25" fill="#32cd32"/>
<rect x="256" y="198" width="1" height="10" fill="#32cd32"/>
<rect x="255" y="201" width="3" height="3" fill="#32cd32"/>
<rect x="260" y="187" width="1" height="25" fill="#32cd32"/>
<rect x="259" y="208" width="3" height="3" fill="#32cd32"/>
<rect x="264" y="183" width="1" height="47" fill="#ff0000"/>
<rect x="263" y="187" width="3" height="24" fill="#ff0000"/>
<rect x="264" y="188" width="1" height="22" fill="#ff4500"/>
<rect x="268" y="178" width="1" height="66" fill="#32cd32"/>
<rect x="267" y="187" width="3" height="34" fill="#32cd32"/>
<rect x="272" y="212" width="1" height="60" fill="#32cd32"/>
<rect x="271" y="219" width="3" height="11" fill="#32cd32"/>
<rect x="276" y="210" width="1" height="38" fill="#ff0000"/>
<rect x="275" y="227" width="3" height="3" fill="#ff0000"/>
<rect x="276" y="228" width="1" height="1" fill="#ff4500"/>
<rect x="280" y="226" width="1" height="24" fill="#32cd32"/>
<rect x="279" y="227" width="3" height="20" fill="#32cd32"/>
<rect x="284" y="233" width="1" height="31" fill="#32cd32"/>
<rect x="283" y="252" width="3" height="5" fill="#32cd32"/>
<rect x="288" y="233" width="1" height="54" fill="#32cd32"/>
<rect x="287" y="256" width="3" height="23" fill="#32cd32"/>
<rect x="292" y="252" width="1" height="28" fill="#ff0000"/>
<rect x="291" y="259" width="3" height="20" fill="#ff0000"/>
<rect x="292" y="260" width="1" height="18" fill="#ff4500"/>
<rect x="296" y="241" width="1" height="33" fill="#32cd32"/>
<rect x="295" y="259" width="3" height="9" fill="#32cd32"/>
<rect x="300" y="235" width="1" height="42" fill="#ff0000"/>
<rect x="299" y="235" width="3" height="33" fill="#ff0000"/>
<rect x="300" y="236" width="1" height="31" fill="#ff4500"/>
<rect x="304" y="228" width="1" height="11" fill="#ff0000"/>
<rect x="303" y="230" width="3" height="6" fill="#ff0000"/>
<rect x="304" y="231" width="1" height="4" fill="#ff4500"/>
<rect x="308" y="204" width="1" height="36" fill="#ff0000"/>
<rect x="307" y="207" width="3" height="23" fill="#ff0000"/>
<rect x="308" y="208" width="1" height="21" fill="#ff4500"/>
<rect x="312" y="193" width="1" height="24" fill="#ff0000"/>
<rect x="311" y="199" width="3" height="8" fill="#ff0000"/>
<rect x="312" y="200" width="1" height="6" fill="#ff4500"/>
<rect x="316" y="182" width="1" height="24" fill="#ff0000"/>
<rect x="315" y="194" width="3" height="6" fill="#ff0000"/>
<rect x="316" y="195" width="1" height="4" fill="#ff4500"/>
<rect x="320" y="174" width="1" height="31" fill="#ff0000"/>
<rect x="319" y="180" width="3" height="16" fill="#ff0000"/>
<rect x="320" y="181" width="1" height="14" fill="#ff4500"/>
<rect x="324" y="179" width="1" height="24" fill="#32cd32"/>
<rect x="323" y="180" width="3" height="6" fill="#32cd32"/>
<rect x="328" y="177" width="1" height="12" fill="#ff0000"/>
<rect x="327" y="182" width="3" height="4" fill="#ff0000"/>
<rect x="328" y="183" width="1" height="2" fill="#ff4500"/>
<rect x="332" y="165" width="1" height="17" fill="#ff0000"/>
<rect x="331" y="167" width="3" height="14" fill="#ff0000"/>
<rect x="332" y="168" width="1" height="12" fill="#ff4500"/>
<rect x="336" y="155" width="1" height="34" fill="#32cd32"/>
<rect x="335" y="167" width="3" height="6" fill="#32cd32"/>
<rect x="340" y="170" width="1" height="30" fill="#32cd32"/>
<rect x="339" y="172" width="3" height="22" fill="#32cd32"/>
<rect x="344" y="164" width="1" height="36" fill="#ff0000"/>
<rect x="343" y="190" width="3" height="5" fill="#ff0000"/>
<rect x="344" y="191" width="1" height="3" fill="#ff4500"/>
<rect x="348" y="122" width="1" height="71" fill="#ff0000"/>
<rect x="347" y="124" width="3" height="67" fill="#ff0000"/>
<rect x="348" y="125" width="1" height="65" fill="#ff4500"/>
<rect x="352" y="116" width="1" height="12" fill="#ff0000"/>
<rect x="351" y="123" width="3" height="2" fill="#ff0000"/>
<rect x="356" y="94" width="1" height="35" fill="#ff0000"/>
<rect x="355" y="102" width="3" height="19" fill="#ff0000"/>
<rect x="356" y="103" width="1" height="17" fill="#ff4500"/>
<rect x="360" y="85" width="1" height="31" fill="#ff0000"/>
<rect x="359" y="100" width="3" height="3" fill="#ff0000"/>
<rect x="360" y="101" width="1" height="1" fill="#ff4500"/>
<rect x="364" y="80" width="1" height="28" fill="#ff0000"/>
<rect x="363" y="94" width="3" height="7" fill="#ff0000"/>
<rect x="364" y="95" width="1" height="5" fill="#ff4500"/>
<rect x="368" y="46" width="1" height="50" fill="#ff0000"/>
<rect x="367" y="73" width="3" height="22" fill="#ff0000"/>
<rect x="368" y="74" width="1" height="20" fill="#ff4500"/>
<rect x="372" y="70" width="1" height="127" fill="#32cd32"/>
<rect x="371" y="73" width="3" height="116" fill="#32cd32"/>
<rect x="376" y="184" width="1" height="26" fill="#32cd32"/>
<rect x="375" y="188" width="3" height="21" fill="#32cd32"/>
<rect x="380" y="166" width="1" height="41" fill="#ff0000"/>
<rect x="379" y="167" width="3" height="35" fill="#ff0000"/>
<rect x="380" y="168" width="1" height="33" fill="#ff4500"/>
<rect x="384" y="150" width="1" height="44" fill="#ff0000"/>
<rect x="383" y="151" width="3" height="18" fill="#ff0000"/>
<rect x="384" y="152" width="1" height="16" fill="#ff4500"/>
<rect x="388" y="138" width="1" height="37" fill="#32cd32"/>
<rect x="387" y="151" width="3" height="10" fill="#32cd32"/>
<rect x="392" y="150" width="1" height="35" fill="#ff0000"/>
<rect x="391" y="158" width="3" height="3" fill="#ff0000"/>
<rect x="392" y="159" width="1" height="1" fill="#ff4500"/>
<rect x="396" y="152" width="1" height="104" fill="#32cd32"/>
<rect x="395" y="158" width="3" height="75" fill="#32cd32"/>
<rect x="400" y="217" width="1" height="23" fill="#ff0000"/>
<rect x="399" y="218" width="3" height="15" fill="#ff0000"/>
<rect x="400" y="219" width="1" height="13" fill="#ff4500"/>
<rect x="404" y="200" width="1" height="48" fill="#32cd32"/>
<rect x="403" y="215" width="3" height="16" fill="#32cd32"/>
<rect x="408" y="202" width="1" height="54" fill="#ff0000"/>
<rect x="407" y="214" width="3" height="17" fill="#ff0000"/>
<rect x="408" y="215" width="1" height="15" fill="#ff4500"/>
<rect x="412" y="188" width="1" height="42" fill="#ff0000"/>
<rect x="411" y="206" width="3" height="7" fill="#ff0000"/>
<rect x="412" y="207" width="1" height="5" fill="#ff4500"/>
<rect x="416" y="167" width="1" height="44" fill="#ff0000"/>
<rect x="415" y="176" width="3" height="31" fill="#ff0000"/>
<rect x="416" y="177" width="1" height="29" fill="#ff4500"/>
<rect x="420" y="158" width="1" height="42" fill="#32cd32"/>
<rect x="419" y="177" width="3" height="10" fill="#32cd32"/>
<rect x="424" y="171" width="1" height="18" fill="#ff0000"/>
<rect x="423" y="181" width="3" height="6" fill="#ff0000"/>
<rect x="424" y="182" width="1" height="4" fill="#ff4500"/>
<rect x="428" y="171" width="1" height="39" fill="#32cd32"/>
<rect x="427" y="183" width="3" height="15" fill="#32cd32"/>
<rect x="432" y="180" width="1" height="28" fill="#ff0000"/>
<rect x="431" y="187" width="3" height="11" fill="#ff0000"/>
<rect x="432" y="188" width="1" height="9" fill="#ff4500"/>
<rect x="436" y="181" width="1" height="29" fill="#32cd32"/>
<rect x="435" y="187" width="3" height="22" fill="#32cd32"/>
<rect x="440" y="131" width="1" height="84" fill="#ff0000"/>
<rect x="439" y="161" width="3" height="48" fill="#ff0000"/>
<rect x="440" y="162" width="1" height="46" fill="#ff4500"/>
<rect x="444" y="156" width="1" height="48" fill="#32cd32"/>
<rect x="443" y="161" width="3" height="28" fill="#32cd32"/>
<rect x="448" y="182" width="1" height="8" fill="#ff0000"/>
<rect x="447" y="186" width="3" height="3" fill="#ff0000"/>
<rect x="448" y="187" width="1" height="1" fill="#ff4500"/>
<rect x="452" y="183" width="1" height="28" fill="#ff0000"/>
<rect x="451" y="186" width="3" height="15" fill="#ff0000"/>
<rect x="452" y="187" width="1" height="13" fill="#ff4500"/>
<rect x="456" y="182" width="1" height="55" fill="#32cd32"/>
<rect x="455" y="186" width="3" height="37" fill="#32cd32"/>
<rect x="460" y="222" width="1" height="54" fill="#32cd32"/>
<rect x="459" y="222" width="3" height="34" fill="#32cd32"/>
<rect x="464" y="251" width="1" height="36" fill="#32cd32"/>
<rect x="463" y="254" width="3" height="30" fill="#32cd32"/>
<rect x="468" y="246" width="1" height="38" fill="#ff0000"/>
<rect x="467" y="251" width="3" height="33" fill="#ff0000"/>
<rect x="468" y="252" width="1" height="31" fill="#ff4500"/>
<rect x="472" y="248" width="1" height="11" fill="#32cd32"/>
<rect x="471" y="251" width="3" height="4" fill="#32cd32"/>
<rect x="476" y="236" width="1" height="23" fill="#ff0000"/>
<rect x="475" y="243" width="3" height="4" fill="#ff0000"/>
<rect x="476" y="244" width="1" height="2" fill="#ff4500"/>
<rect x="480" y="232" width="1" height="38" fill="#32cd32"/>
<rect x="479" y="243" width="3" height="21" fill="#32cd32"/>
<rect x="484" y="247" width="1" height="29" fill="#ff0000"/>
<rect x="483" y="260" width="3" height="4" fill="#ff0000"/>
<rect x="484" y="261" width="1" height="2" fill="#ff4500"/>
<rect x="488" y="255" width="1" height="49" fill="#32cd32"/>
<rect x="487" y="260" width="3" height="5" fill="#32cd32"/>
<rect x="492" y="256" width="1" height="9" fill="#ff0000"/>
<rect x="491" y="258" width="3" height="7" fill="#ff0000"/>
<rect x="492" y="259" width="1" height="5" fill="#ff4500"/>
<rect x="496" y="264" width="1" height="6" fill="#32cd32"/>
<rect x="495" y="266" width="3" height="1" fill="#32cd32"/>
<rect x="500" y="234" width="1" height="34" fill="#ff0000"/>
<rect x="499" y="236" width="3" height="25" fill="#ff0000"/>
<rect x="500" y="237" width="1" height="23" fill="#ff4500"/>
<rect x="504" y="233" width="1" height="31" fill="#ff0000"/>
<rect x="503" y="234" width="3" height="3" fill="#ff0000"/>
<rect x="504" y="235" width="1" height="1" fill="#ff4500"/>
<rect x="508" y="225" width="1" height="36" fill="#32cd32"/>
<rect x="507" y="234" width="3" height="20" fill="#32cd32"/>
<rect x="512" y="240" width="1" height="27" fill="#ff0000"/>
<rect x="511" y="245" width="3" height="8" fill="#ff0000"/>
<rect x="512" y="246" width="1" height="6" fill="#ff4500"/>
<rect x="516" y="233" width="1" height="41" fill="#32cd32"/>
<rect x="515" y="245" width="3" height="6" fill="#32cd32"/>
<rect x="520" y="249" width="1" height="6" fill="#32cd32"/>
<rect x="519" y="250" width="3" height="3" fill="#32cd32"/>
<rect x="524" y="247" width="1" height="23" fill="#32cd32"/>
<rect x="523" y="255" width="3" height="2" fill="#32cd32"/>
<rect x="528" y="249" width="1" height="27" fill="#ff0000"/>
<rect x="527" y="251" width="3" height="6" fill="#ff0000"/>
<rect x="528" y="252" width="1" height="4" fill="#ff4500"/>
<rect x="532" y="195" width="1" height="57" fill="#ff0000"/>
<rect x="531" y="196" width="3" height="56" fill="#ff0000"/>
<rect x="532" y="197" width="1" height="54" fill="#ff4500"/>
<rect x="536" y="179" width="1" height="31" fill="#ff0000"/>
<rect x="535" y="188" width="3" height="9" fill="#ff0000"/>
<rect x="536" y="189" width="1" height="7" fill="#ff4500"/>
<rect x="540" y="180" width="1" height="20" fill="#32cd32"/>
<rect x="539" y="188" width="3" height="7" fill="#32cd32"/>
<rect x="544" y="192" width="1" height="5" fill="#32cd32"/>
<rect x="543" y="194" width="3" height="2" fill="#32cd32"/>
<rect x="548" y="167" width="1" height="43" fill="#ff0000"/>
<rect x="547" y="181" width="3" height="19" fill="#ff0000"/>
<rect x="548" y="182" width="1" height="17" fill="#ff4500"/>
<rect x="552" y="150" width="1" height="47" fill="#32cd32"/>
<rect x="551" y="181" width="3" height="10" fill="#32cd32"/>
<rect x="556" y="179" width="1" height="35" fill="#ff0000"/>
<rect x="555" y="183" width="3" height="8" fill="#ff0000"/>
<rect x="556" y="184" width="1" height="6" fill="#ff4500"/>
<rect x="560" y="177" width="1" height="31" fill="#32cd32"/>
<rect x="559" y="183" width="3" height="17" fill="#32cd32"/>
<rect x="564" y="188" width="1" height="30" fill="#ff0000"/>
<rect x="563" y="192" width="3" height="8" fill="#ff0000"/>
<rect x="564" y="193" width="1" height="6" fill="#ff4500"/>
<rect x="568" y="181" width="1" height="14" fill="#ff0000"/>
<rect x="567" y="181" width="3" height="12" fill="#ff0000"/>
<rect x="568" y="182" width="1" height="10" fill="#ff4500"/>
<rect x="572" y="150" width="1" height="41" fill="#ff0000"/>
<rect x="571" y="158" width="3" height="29" fill="#ff0000"/>
<rect x="572" y="159" width="1" height="27" fill="#ff4500"/>
<rect x="576" y="154" width="1" height="25" fill="#32cd32"/>
<rect x="575" y="158" width="3" height="15" fill="#32cd32"/>
<rect x="580" y="171" width="1" height="29" fill="#32cd32"/>
<rect x="579" y="172" width="3" height="5" fill="#32cd32"/>
<rect x="584" y="148" width="1" height="37" fill="#32cd32"/>
<rect x="583" y="176" width="3" height="6" fill="#32cd32"/>
<rect x="588" y="167" width="1" height="44" fill="#32cd32"/>
<rect x="587" y="181" width="3" height="24" fill="#32cd32"/>
<rect x="592" y="203" width="1" height="8" fill="#32cd32"/>
<rect x="591" y="204" width="3" height="7" fill="#32cd32"/>
<rect x="596" y="177" width="1" height="31" fill="#ff0000"/>
<rect x="595" y="181" width="3" height="22" fill="#ff0000"/>
<rect x="596" y="182" width="1" height="20" fill="#ff4500"/>
<rect x="600" y="176" width="1" height="51" fill="#32cd32"/>
<rect x="599" y="181" width="3" height="39" fill="#32cd32"/>
<rect x="604" y="183" width="1" height="38" fill="#ff0000"/>
<rect x="603" y="186" width="3" height="34" fill="#ff0000"/>
<rect x="604" y="187" width="1" height="32" fill="#ff4500"/>
<rect x="608" y="171" width="1" height="42" fill="#ff0000"/>
<rect x="607" y="176" width="3" height="11" fill="#ff0000"/>
<rect x="608" y="177" width="1" height="9" fill="#ff4500"/>
<rect x="612" y="125" width="1" height="55" fill="#ff0000"/>
<rect x="611" y="125" width="3" height="52" fill="#ff0000"/>
<rect x="612" y="126" width="1" height="50" fill="#ff4500"/>
<rect x="616" y="125" width="1" height="14" fill="#32cd32"/>
<rect x="615" y="125" width="3" height="9" fill="#32cd32"/>
<rect x="620" y="109" width="1" height="29" fill="#ff0000"/>
<rect x="619" y="118" width="3" height="12" fill="#ff0000"/>
<rect x="620" y="119" width="1" height="10" fill="#ff4500"/>
<rect x="624" y="117" width="1" height="31" fill="#32cd32"/>
<rect x="623" y="118" width="3" height="18" fill="#32cd32"/>
<rect x="628" y="132" width="1" height="64" fill="#32cd32"/>
<rect x="627" y="135" width="3" height="60" fill="#32cd32"/>
<rect x="632" y="187" width="1" height="33" fill="#32cd32"/>
<rect x="631" y="194" width="3" height="7" fill="#32cd32"/>
<rect x="636" y="168" width="1" height="41" fill="#ff0000"/>
<rect x="635" y="171" width="3" height="30" fill="#ff0000"/>
<rect x="636" y="172" width="1" height="28" fill="#ff4500"/>
<rect x="640" y="165" width="1" height="7" fill="#ff0000"/>
<rect x="639" y="165" width="3" height="7" fill="#ff0000"/>
<rect x="640" y="166" width="1" height="5" fill="#ff4500"/>
<rect x="644" y="167" width="1" height="30" fill="#32cd32"/>
<rect x="643" y="170" width="3" height="8" fill="#32cd32"/>
<rect x="648" y="151" width="1" height="30" fill="#ff0000"/>
<rect x="647" y="169" width="3" height="9" fill="#ff0000"/>
<rect x="648" y="170" width="1" height="7" fill="#ff4500"/>
<rect x="652" y="155" width="1" height="41" fill="#32cd32"/>
<rect x="651" y="168" width="3" height="17" fill="#32cd32"/>
<rect x="656" y="168" width="1" height="39" fill="#ff0000"/>
<rect x="655" y="170" width="3" height="15" fill="#ff0000"/>
<rect x="656" y="171" width="1" height="13" fill="#ff4500"/>
<rect x="660" y="168" width="1" height="30" fill="#32cd32"/>
<rect x="659" y="170" width="3" height="27" fill="#32cd32"/>
<rect x="664" y="194" width="1" height="9" fill="#ff0000"/>
<rect x="663" y="195" width="3" height="2" fill="#ff0000"/>
<rect x="668" y="182" width="1" height="28" fill="#ff0000"/>
<rect x="667" y="190" width="3" height="9" fill="#ff0000"/>
<rect x="668" y="191" width="1" height="7" fill="#ff4500"/>
<rect x="672" y="171" width="1" height="23" fill="#ff0000"/>
<rect x="671" y="190" width="3" height="2" fill="#ff0000"/>
<rect x="676" y="160" width="1" height="36" fill="#ff0000"/>
<rect x="675" y="189" width="3" height="2" fill="#ff0000"/>
<rect x="680" y="181" width="1" height="20" fill="#32cd32"/>
<rect x="679" y="189" width="3" height="5" fill="#32cd32"/>
<rect x="684" y="187" width="1" height="38" fill="#32cd32"/>
<rect x="683" y="193" width="3" height="18" fill="#32cd32"/>
<rect x="688" y="204" width="1" height="7" fill="#ff0000"/>
<rect x="687" y="208" width="3" height="3" fill="#ff0000"/>
<rect x="688" y="209" width="1" height="1" fill="#ff4500"/>
<rect x="692" y="190" width="1" height="23" fill="#ff0000"/>
<rect x="691" y="191" width="3" height="16" fill="#ff0000"/>
<rect x="692" y="192" width="1" height="14" fill="#ff4500"/>
<rect x="696" y="175" width="1" height="22" fill="#ff0000"/>
<rect x="695" y="177" width="3" height="15" fill="#ff0000"/>
<rect x="696" y="178" width="1" height="13" fill="#ff4500"/>
<rect x="700" y="173" width="1" height="32" fill="#32cd32"/>
<rect x="699" y="178" width="3" height="8" fill="#32cd32"/>
<rect x="704" y="182" width="1" height="59" fill="#32cd32"/>
<rect x="703" y="184" width="3" height="56" fill="#32cd32"/>
<rect x="708" y="188" width="1" height="55" fill="#ff0000"/>
<rect x="707" y="190" width="3" height="49" fill="#ff0000"/>
<rect x="708" y="191" width="1" height="47" fill="#ff4500"/>
<rect x="712" y="188" width="1" height="5" fill="#ff0000"/>
<rect x="711" y="188" width="3" height="3" fill="#ff0000"/>
<rect x="712" y="189" width="1" height="1" fill="#ff4500"/>
<rect x="716" y="177" width="1" height="22" fill="#ff0000"/>
<rect x="715" y="178" width="3" height="14" fill="#ff0000"/>
<rect x="716" y="179" width="1" height="12" fill="#ff4500"/>
<rect x="720" y="177" width="1" height="19" fill="#32cd32"/>
<rect x="719" y="177" width="3" height="15" fill="#32cd32"/>
<rect x="724" y="179" width="1" height="21" fill="#32cd32"/>
<rect x="723" y="191" width="3" height="6" fill="#32cd32"/>
<rect x="728" y="178" width="1" height="26" fill="#ff0000"/>
<rect x="727" y="184" width="3" height="13" fill="#ff0000"/>
<rect x="728" y="185" width="1" height="11" fill="#ff4500"/>
<rect x="732" y="171" width="1" height="48" fill="#32cd32"/>
<rect x="731" y="184" width="3" height="32" fill="#32cd32"/>
<rect x="736" y="211" width="1" height="9" fill="#ff0000"/>
<rect x="735" y="211" width="3" height="5" fill="#ff0000"/>
<rect x="736" y="212" width="1" height="3" fill="#ff4500"/>
<rect x="740" y="198" width="1" height="19" fill="#ff0000"/>
<rect x="739" y="203" width="3" height="6" fill="#ff0000"/>
<rect x="740" y="204" width="1" height="4" fill="#ff4500"/>
<rect x="744" y="203" width="1" height="24" fill="#32cd32"/>
<rect x="743" y="203" width="3" height="23" fill="#32cd32"/>
<rect x="748" y="204" width="1" height="23" fill="#ff0000"/>
<rect x="747" y="206" width="3" height="20" fill="#ff0000"/>
<rect x="748" y="207" width="1" height="18" fill="#ff4500"/>
<rect x="752" y="206" width="1" height="88" fill="#32cd32"/>
<rect x="751" y="206" width="3" height="86" fill="#32cd32"/>
<rect x="756" y="287" width="1" height="46" fill="#32cd32"/>
<rect x="755" y="291" width="3" height="31" fill="#32cd32"/>
<rect x="760" y="315" width="1" height="11" fill="#ff0000"/>
<rect x="759" y="321" width="3" height="1" fill="#ff0000"/>
<rect x="764" y="301" width="1" height="33" fill="#ff0000"/>
<rect x="763" y="306" width="3" height="15" fill="#ff0000"/>
<rect x="764" y="307" width="1" height="13" fill="#ff4500"/>
<rect x="768" y="296" width="1" height="29" fill="#32cd32"/>
<rect x="767" y="306" width="3" height="1" fill="#32cd32"/>
<rect x="772" y="267" width="1" height="40" fill="#ff0000"/>
<rect x="771" y="273" width="3" height="34" fill="#ff0000"/>
<rect x="772" y="274" width="1" height="32" fill="#ff4500"/>
<rect x="776" y="271" width="1" height="15" fill="#32cd32"/>
<rect x="775" y="273" width="3" height="9" fill="#32cd32"/>
<rect x="780" y="258" width="1" height="23" fill="#ff0000"/>
<rect x="779" y="269" width="3" height="12" fill="#ff0000"/>
<rect x="780" y="270" width="1" height="10" fill="#ff4500"/>
<rect x="784" y="269" width="1" height="8" fill="#32cd32"/>
<rect x="783" y="269" width="3" height="6" fill="#32cd32"/>
<rect x="788" y="266" width="1" height="26" fill="#32cd32"/>
<rect x="787" y="274" width="3" height="8" fill="#32cd32"/>
<rect x="792" y="281" width="1" height="36" fill="#32cd32"/>
<rect x="791" y="281" width="3" height="31" fill="#32cd32"/>
<rect x="796" y="306" width="1" height="20" fill="#32cd32"/>
<rect x="795" y="312" width="3" height="12" fill="#32cd32"/>
<rect x="800" y="316" width="1" height="26" fill="#32cd32"/>
<rect x="799" y="323" width="3" height="14" fill="#32cd32"/>
<rect x="804" y="320" width="1" height="32" fill="#ff0000"/>
<rect x="803" y="322" width="3" height="15" fill="#ff0000"/>
<rect x="804" y="323" width="1" height="13" fill="#ff4500"/>
<rect x="808" y="302" width="1" height="23" fill="#ff0000"/>
<rect x="807" y="304" width="3" height="19" fill="#ff0000"/>
<rect x="808" y="305" width="1" height="17" fill="#ff4500"/>
<rect x="812" y="300" width="1" height="17" fill="#ff0000"/>
<rect x="811" y="303" width="3" height="8" fill="#ff0000"/>
<rect x="812" y="304" width="1" height="6" fill="#ff4500"/>
<rect x="816" y="267" width="1" height="61" fill="#32cd32"/>
<rect x="815" y="303" width="3" height="20" fill="#32cd32"/>
<rect x="820" y="302" width="1" height="40" fill="#32cd32"/>
<rect x="819" y="322" width="3" height="8" fill="#32cd32"/>
<rect x="824" y="317" width="1" height="50" fill="#32cd32"/>
<rect x="823" y="329" width="3" height="27" fill="#32cd32"/>
<rect x="828" y="327" width="1" height="44" fill="#ff0000"/>
<rect x="827" y="332" width="3" height="24" fill="#ff0000"/>
<rect x="828" y="333" width="1" height="22" fill="#ff4500"/>
<rect x="832" y="325" width="1" height="8" fill="#ff0000"/>
<rect x="831" y="326" width="3" height="7" fill="#ff0000"/>
<rect x="832" y="327" width="1" height="5" fill="#ff4500"/>
<rect x="836" y="323" width="1" height="27" fill="#ff0000"/>
<rect x="835" y="326" width="3" height="1" fill="#ff0000"/>
<rect x="840" y="319" width="1" height="42" fill="#32cd32"/>
<rect x="839" y="326" width="3" height="11" fill="#32cd32"/>
<rect x="844" y="328" width="1" height="31" fill="#32cd32"/>
<rect x="843" y="336" width="3" height="3" fill="#32cd32"/>
<rect x="848" y="327" width="1" height="31" fill="#32cd32"/>
<rect x="847" y="338" width="3" height="19" fill="#32cd32"/>
<rect x="852" y="352" width="1" height="25" fill="#32cd32"/>
<rect x="851" y="356" width="3" height="15" fill="#32cd32"/>
<rect x="856" y="366" width="1" height="10" fill="#32cd32"/>
<rect x="855" y="370" width="3" height="5" fill="#32cd32"/>
<rect x="860" y="377" width="1" height="38" fill="#32cd32"/>
<rect x="859" y="379" width="3" height="27" fill="#32cd32"/>
<rect x="864" y="398" width="1" height="32" fill="#32cd32"/>
<rect x="863" y="405" width="3" height="11" fill="#32cd32"/>
<rect x="868" y="396" width="1" height="40" fill="#ff0000"/>
<rect x="867" y="399" width="3" height="17" fill="#ff0000"/>
<rect x="868" y="400" width="1" height="15" fill="#ff4500"/>
<rect x="872" y="376" width="1" height="31" fill="#ff0000"/>
<rect x="871" y="394" width="3" height="6" fill="#ff0000"/>
<rect x="872" y="395" width="1" height="4" fill="#ff4500"/>
<rect x="876" y="380" width="1" height="19" fill="#32cd32"/>
<rect x="875" y="394" width="3" height="2" fill="#32cd32"/>
<rect x="880" y="389" width="1" height="7" fill="#ff0000"/>
<rect x="879" y="394" width="3" height="2" fill="#ff0000"/>
<rect x="884" y="380" width="1" height="33" fill="#ff0000"/>
<rect x="883" y="382" width="3" height="12" fill="#ff0000"/>
<rect x="884" y="383" width="1" height="10" fill="#ff4500"/>
<rect x="888" y="381" width="1" height="29" fill="#32cd32"/>
<rect x="887" y="382" width="3" height="11" fill="#32cd32"/>
<rect x="892" y="388" width="1" height="29" fill="#32cd32"/>
<rect x="891" y="392" width="3" height="12" fill="#32cd32"/>
<rect x="896" y="368" width="1" height="52" fill="#ff0000"/>
<rect x="895" y="375" width="3" height="29" fill="#ff0000"/>
<rect x="896" y="376" width="1" height="27" fill="#ff4500"/>
<rect x="900" y="372" width="1" height="34" fill="#32cd32"/>
<rect x="899" y="373" width="3" height="29" fill="#32cd32"/>
<rect x="904" y="401" width="1" height="12" fill="#32cd32"/>
<rect x="903" y="401" width="3" height="10" fill="#32cd32"/>
<rect x="908" y="384" width="1" height="30" fill="#ff0000"/>
<rect x="907" y="394" width="3" height="12" fill="#ff0000"/>
<rect x="908" y="395" width="1" height="10" fill="#ff4500"/>
<rect x="912" y="370" width="1" height="30" fill="#ff0000"/>
<rect x="911" y="383" width="3" height="12" fill="#ff0000"/>
<rect x="912" y="384" width="1" height="10" fill="#ff4500"/>
<rect x="916" y="360" width="1" height="32" fill="#32cd32"/>
<rect x="915" y="383" width="3" height="4" fill="#32cd32"/>
<rect x="920" y="366" width="1" height="22" fill="#ff0000"/>
<rect x="919" y="370" width="3" height="17" fill="#ff0000"/>
<rect x="920" y="371" width="1" height="15" fill="#ff4500"/>
<rect x="924" y="370" width="1" height="7" fill="#32cd32"/>
<rect x="923" y="370" width="3" height="6" fill="#32cd32"/>
</g>
<rect x="4" y="518" width="2" height="14" fill="#c0c0c0"/>
<rect x="7" y="515" width="3" height="17" fill="#c0c0c0"/>
<rect x="11" y="514" width="3" height="18" fill="#c0c0c0"/>
<rect x="15" y="513" width="3" height="19" fill="#c0c0c0"/>
<rect x="19" y="513" width="3" height="19" fill="#c0c0c0"/>
<rect x="23" y="513" width="3" height="19" fill="#c0c0c0"/>
<rect x="27" y="511" width="3" height="21" fill="#c0c0c0"/>
<rect x="31" y="510" width="3" height="22" fill="#c0c0c0"/>
<rect x="35" y="508" width="3" height="24" fill="#c0c0c0"/>
<rect x="39" y="510" width="3" height="22" fill="#c0c0c0"/>
<rect x="43" y="510" width="3" height="22" fill="#c0c0c0"/>
<rect x="47" y="510" width="3" height="22" fill="#c0c0c0"/>
<rect x="51" y="511" width="3" height="21" fill="#c0c0c0"/>
<rect x="55" y="510" width="3" height="22" fill="#c0c0c0"/>
<rect x="59" y="509" width="3" height="23" fill="#c0c0c0"/>
<rect x="63" y="508" width="3" height="24" fill="#c0c0c0"/>
<rect x="67" y="506" width="3" height="26" fill="#c0c0c0"/>
<rect x="71" y="506" width="3" height="26" fill="#c0c0c0"/>
<rect x="75" y="506" width="3" height="26" fill="#c0c0c0"/>
<rect x="79" y="507" width="3" height="25" fill="#c0c0c0"/>
<rect x="83" y="507" width="3" height="25" fill="#c0c0c0"/>
<rect x="87" y="505" width="3" height="27" fill="#c0c0c0"/>
<rect x="91" y="504" width="3" height="28" fill="#c0c0c0"/>
<rect x="95" y="504" width="3" height="28" fill="#c0c0c0"/>
<rect x="99" y="503" width="3" height="29" fill="#c0c0c0"/>
<rect x="103" y="505" width="3" height="27" fill="#c0c0c0"/>
<rect x="107" y="504" width="3" height="28" fill="#c0c0c0"/>
<rect x="111" y="501" width="3" height="31" fill="#c0c0c0"/>
<rect x="115" y="499" width="3" height="33" fill="#c0c0c0"/>
<rect x="119" y="498" width="3" height="34" fill="#c0c0c0"/>
<rect x="123" y="497" width="3" height="35" fill="#c0c0c0"/>
<rect x="127" y="496" width="3" height="36" fill="#c0c0c0"/>
<rect x="131" y="496" width="3" height="36" fill="#c0c0c0"/>
<rect x="135" y="495" width="3" height="37" fill="#c0c0c0"/>
<rect x="139" y="494" width="3" height="38" fill="#c0c0c0"/>
<rect x="143" y="494" width="3" height="38" fill="#c0c0c0"/>
<rect x="147" y="495" width="3" height="37" fill="#c0c0c0"/>
<rect x="151" y="496" width="3" height="36" fill="#c0c0c0"/>
<rect x="155" y="496" width="3" height="36" fill="#c0c0c0"/>
<rect x="159" y="498" width="3" height="34" fill="#c0c0c0"/>
<rect x="163" y="500" width="3" height="32" fill="#c0c0c0"/>
<rect x="167" y="502" width="3" height="30" fill="#c0c0c0"/>
<rect x="171" y="502" width="3" height="30" fill="#c0c0c0"/>
<rect x="175" y="499" width="3" height="33" fill="#c0c0c0"/>
<rect x="179" y="496" width="3" height="36" fill="#c0c0c0"/>
<rect x="183" y="495" width="3" height="37" fill="#c0c0c0"/>
<rect x="187" y="496" width="3" height="36" fill="#c0c0c0"/>
<rect x="191" y="494" width="3" height="38" fill="#c0c0c0"/>
<rect x="195" y="492" width="3" height="40" fill="#c0c0c0"/>
<rect x="199" y="491" width="3" height="41" fill="#c0c0c0"/>
<rect x="203" y="490" width="3" height="42" fill="#c0c0c0"/>
<rect x="207" y="491" width="3" height="41" fill="#c0c0c0"/>
<rect x="211" y="494" width="3" height="38" fill="#c0c0c0"/>
<rect x="215" y="496" width="3" height="36" fill="#c0c0c0"/>
<rect x="219" y="498" width="3" height="34" fill="#c0c0c0"/>
<rect x="223" y="498" width="3" height="34" fill="#c0c0c0"/>
<rect x="227" y="501" width="3" height="31" fill="#c0c0c0"/>
<rect x="231" y="504" width="3" height="28" fill="#c0c0c0"/>
<rect x="235" y="507" width="3" height="25" fill="#c0c0c0"/>
<rect x="239" y="509" width="3" height="23" fill="#c0c0c0"/>
<rect x="243" y="509" width="3" height="23" fill="#c0c0c0"/>
<rect x="247" y="509" width="3" height="23" fill="#c0c0c0"/>
<rect x="251" y="511" width="3" height="21" fill="#c0c0c0"/>
<rect x="255" y="513" width="3" height="19" fill="#c0c0c0"/>
<rect x="259" y="515" width="3" height="17" fill="#c0c0c0"/>
<rect x="263" y="515" width="3" height="17" fill="#c0c0c0"/>
<rect x="267" y="518" width="3" height="14" fill="#c0c0c0"/>
<rect x="271" y="521" width="3" height="11" fill="#c0c0c0"/>
<rect x="275" y="523" width="3" height="9" fill="#c0c0c0"/>
<rect x="279" y="527" width="3" height="5" fill="#c0c0c0"/>
<rect x="283" y="530" width="3" height="2" fill="#c0c0c0"/>
<rect x="287" y="532" width="3" height="4" fill="#c0c0c0"/>
<rect x="291" y="532" width="3" height="6" fill="#c0c0c0"/>
<rect x="295" y="532" width="3" height="8" fill="#c0c0c0"/>
<rect x="299" y="532" width="3" height="7" fill="#c0c0c0"/>
<rect x="303" y="532" width="3" height="6" fill="#c0c0c0"/>
<rect x="307" y="532" width="3" height="2" fill="#c0c0c0"/>
<rect x="311" y="532" width="3" height="1" fill="#c0c0c0"/>
<rect x="315" y="529" width="3" height="3" fill="#c0c0c0"/>
<rect x="319" y="526" width="3" height="6" fill="#c0c0c0"/>
<rect x="323" y="524" width="3" height="8" fill="#c0c0c0"/>
<rect x="327" y="523" width="3" height="9" fill="#c0c0c0"/>
<rect x="331" y="520" width="3" height="12" fill="#c0c0c0"/>
<rect x="335" y="519" width="3" height="13" fill="#c0c0c0"/>
<rect x="339" y="520" width="3" height="12" fill="#c0c0c0"/>
<rect x="343" y="520" width="3" height="12" fill="#c0c0c0"/>
<rect x="347" y="516" width="3" height="16" fill="#c0c0c0"/>
<rect x="351" y="512" width="3" height="20" fill="#c0c0c0"/>
<rect x="355" y="508" width="3" height="24" fill="#c0c0c0"/>
<rect x="359" y="505" width="3" height="27" fill="#c0c0c0"/>
<rect x="363" y="503" width="3" height="29" fill="#c0c0c0"/>
<rect x="367" y="500" width="3" height="32" fill="#c0c0c0"/>
<rect x="371" y="506" width="3" height="26" fill="#c0c0c0"/>
<rect x="375" y="513" width="3" height="19" fill="#c0c0c0"/>
<rect x="379" y="516" width="3" height="16" fill="#c0c0c0"/>
<rect x="383" y="517" width="3" height="15" fill="#c0c0c0"/>
<rect x="387" y="518" width="3" height="14" fill="#c0c0c0"/>
<rect x="391" y="520" width="3" height="12" fill="#c0c0c0"/>
<rect x="395" y="526" width="3" height="6" fill="#c0c0c0"/>
<rect x="399" y="531" width="3" height="1" fill="#c0c0c0"/>
<rect x="403" y="532" width="3" height="4" fill="#c0c0c0"/>
<rect x="407" y="532" width="3" height="6" fill="#c0c0c0"/>
<rect x="411" y="532" width="3" height="7" fill="#c0c0c0"/>
<rect x="415" y="532" width="3" height="6" fill="#c0c0c0"/>
<rect x="419" y="532" width="3" height="5" fill="#c0c0c0"/>
<rect x="423" y="532" width="3" height="4" fill="#c0c0c0"/>
<rect x="427" y="532" width="3" height="5" fill="#c0c0c0"/>
<rect x="431" y="532" width="3" height="5" fill="#c0c0c0"/>
<rect x="435" y="532" width="3" height="6" fill="#c0c0c0"/>
<rect x="439" y="532" width="3" height="3" fill="#c0c0c0"/>
<rect x="443" y="532" width="3" height="3" fill="#c0c0c0"/>
<rect x="447" y="532" width="3" height="3" fill="#c0c0c0"/>
<rect x="451" y="532" width="3" height="4" fill="#c0c0c0"/>
<rect x="455" y="532" width="3" height="5" fill="#c0c0c0"/>
<rect x="459" y="532" width="3" height="10" fill="#c0c0c0"/>
<rect x="463" y="532" width="3" height="15" fill="#c0c0c0"/>
<rect x="467" y="532" width="3" height="17" fill="#c0c0c0"/>
<rect x="471" y="532" width="3" height="19" fill="#c0c0c0"/>
<rect x="475" y="532" width="3" height="19" fill="#c0c0c0"/>
<rect x="479" y="532" width="3" height="20" fill="#c0c0c0"/>
<rect x="483" y="532" width="3" height="21" fill="#c0c0c0"/>
<rect x="487" y="532" width="3" height="21" fill="#c0c0c0"/>
<rect x="491" y="532" width="3" height="21" fill="#c0c0c0"/>
<rect x="495" y="532" width="3" height="21" fill="#c0c0c0"/>
<rect x="499" y="532" width="3" height="19" fill="#c0c0c0"/>
<rect x="503" y="532" width="3" height="17" fill="#c0c0c0"/>
<rect x="507" y="532" width="3" height="16" fill="#c0c0c0"/>
<rect x="511" y="532" width="3" height="15" fill="#c0c0c0"/>
<rect x="515" y="532" width="3" height="14" fill="#c0c0c0"/>
<rect x="519" y="532" width="3" height="14" fill="#c0c0c0"/>
<rect x="523" y="532" width="3" height="13" fill="#c0c0c0"/>
<rect x="527" y="532" width="3" height="12" fill="#c0c0c0"/>
<rect x="531" y="532" width="3" height="8" fill="#c0c0c0"/>
<rect x="535" y="532" width="3" height="4" fill="#c0c0c0"/>
<rect x="539" y="532" width="3" height="1" fill="#c0c0c0"/>
<rect x="543" y="529" width="3" height="3" fill="#c0c0c0"/>
<rect x="547" y="526" width="3" height="6" fill="#c0c0c0"/>
<rect x="551" y="525" width="3" height="7" fill="#c0c0c0"/>
<rect x="555" y="523" width="3" height="9" fill="#c0c0c0"/>
<rect x="559" y="523" width="3" height="9" fill="#c0c0c0"/>
<rect x="563" y="523" width="3" height="9" fill="#c0c0c0"/>
<rect x="567" y="522" width="3" height="10" fill="#c0c0c0"/>
<rect x="571" y="520" width="3" height="12" fill="#c0c0c0"/>
<rect x="575" y="519" width="3" height="13" fill="#c0c0c0"/>
<rect x="579" y="519" width="3" height="13" fill="#c0c0c0"/>
<rect x="583" y="519" width="3" height="13" fill="#c0c0c0"/>
<rect x="587" y="522" width="3" height="10" fill="#c0c0c0"/>
<rect x="591" y="524" width="3" height="8" fill="#c0c0c0"/>
<rect x="595" y="524" width="3" height="8" fill="#c0c0c0"/>
<rect x="599" y="526" width="3" height="6" fill="#c0c0c0"/>
<rect x="603" y="526" width="3" height="6" fill="#c0c0c0"/>
<rect x="607" y="525" width="3" height="7" fill="#c0c0c0"/>
<rect x="611" y="521" width="3" height="11" fill="#c0c0c0"/>
<rect x="615" y="518" width="3" height="14" fill="#c0c0c0"/>
<rect x="619" y="515" width="3" height="17" fill="#c0c0c0"/>
<rect x="623" y="514" width="3" height="18" fill="#c0c0c0"/>
<rect x="627" y="518" width="3" height="14" fill="#c0c0c0"/>
<rect x="631" y="521" width="3" height="11" fill="#c0c0c0"/>
<rect x="635" y="522" width="3" height="10" fill="#c0c0c0"/>
<rect x="639" y="523" width="3" height="9" fill="#c0c0c0"/>
<rect x="643" y="524" width="3" height="8" fill="#c0c0c0"/>
<rect x="647" y="524" width="3" height="8" fill="#c0c0c0"/>
<rect x="651" y="526" width="3" height="6" fill="#c0c0c0"/>
<rect x="655" y="526" width="3" height="6" fill="#c0c0c0"/>
<rect x="659" y="528" width="3" height="4" fill="#c0c0c0"/>
<rect x="663" y="530" width="3" height="2" fill="#c0c0c0"/>
<rect x="667" y="531" width="3" height="1" fill="#c0c0c0"/>
<rect x="671" y="532" width="3" height="1" fill="#c0c0c0"/>
<rect x="675" y="532" width="3" height="1" fill="#c0c0c0"/>
<rect x="679" y="532" width="3" height="2" fill="#c0c0c0"/>
<rect x="683" y="532" width="3" height="4" fill="#c0c0c0"/>
<rect x="687" y="532" width="3" height="5" fill="#c0c0c0"/>
<rect x="691" y="532" width="3" height="5" fill="#c0c0c0"/>
<rect x="695" y="532" width="3" height="3" fill="#c0c0c0"/>
<rect x="699" y="532" width="3" height="2" fill="#c0c0c0"/>
<rect x="703" y="532" width="3" height="7" fill="#c0c0c0"/>
<rect x="707" y="532" width="3" height="6" fill="#c0c0c0"/>
<rect x="711" y="532" width="3" height="5" fill="#c0c0c0"/>
<rect x="715" y="532" width="3" height="3" fill="#c0c0c0"/>
<rect x="719" y="532" width="3" height="3" fill="#c0c0c0"/>
<rect x="723" y="532" width="3" height="3" fill="#c0c0c0"/>
<rect x="727" y="532" width="3" height="4" fill="#c0c0c0"/>
<rect x="731" y="532" width="3" height="5" fill="#c0c0c0"/>
<rect x="735" y="532" width="3" height="6" fill="#c0c0c0"/>
<rect x="739" y="532" width="3" height="5" fill="#c0c0c0"/>
<rect x="743" y="532" width="3" height="8" fill="#c0c0c0"/>
<rect x="747" y="532" width="3" height="8" fill="#c0c0c0"/>
<rect x="751" y="532" width="3" height="14" fill="#c0c0c0"/>
<rect x="755" y="532" width="3" height="21" fill="#c0c0c0"/>
<rect x="759" y="532" width="3" height="26" fill="#c0c0c0"/>
<rect x="763" y="532" width="3" height="29" fill="#c0c0c0"/>
<rect x="767" y="532" width="3" height="31" fill="#c0c0c0"/>
<rect x="771" y="532" width="3" height="29" fill="#c0c0c0"/>
<rect x="775" y="532" width="3" height="28" fill="#c0c0c0"/>
<rect x="779" y="532" width="3" height="27" fill="#c0c0c0"/>
<rect x="783" y="532" width="3" height="26" fill="#c0c0c0"/>
<rect x="787" y="532" width="3" height="26" fill="#c0c0c0"/>
<rect x="791" y="532" width="3" height="27" fill="#c0c0c0"/>
<rect x="795" y="532" width="3" height="28" fill="#c0c0c0"/>
<rect x="799" y="532" width="3" height="30" fill="#c0c0c0"/>
<rect x="803" y="532" width="3" height="30" fill="#c0c0c0"/>
<rect x="807" y="532" width="3" height="28" fill="#c0c0c0"/>
<rect x="811" y="532" width="3" height="27" fill="#c0c0c0"/>
<rect x="815" y="532" width="3" height="27" fill="#c0c0c0"/>
<rect x="819" y="532" width="3" height="27" fill="#c0c0c0"/>
<rect x="823" y="532" width="3" height="29" fill="#c0c0c0"/>
<rect x="827" y="532" width="3" height="28" fill="#c0c0c0"/>
<rect x="831" y="532" width="3" height="27" fill="#c0c0c0"/>
<rect x="835" y="532" width="3" height="25" fill="#c0c0c0"/>
<rect x="839" y="532" width="3" height="25" fill="#c0c0c0"/>
<rect x="843" y="532" width="3" height="24" fill="#c0c0c0"/>
<rect x="847" y="532" width="3" height="25" fill="#c0c0c0"/>
<rect x="851" y="532" width="3" height="27" fill="#c0c0c0"/>
<rect x="855" y="532" width="3" height="28" fill="#c0c0c0"/>
<rect x="859" y="532" width="3" height="31" fill="#c0c0c0"/>
<rect x="863" y="532" width="3" height="33" fill="#c0c0c0"/>
<rect x="867" y="532" width="3" height="34" fill="#c0c0c0"/>
<rect x="871" y="532" width="3" height="33" fill="#c0c0c0"/>
<rect x="875" y="532" width="3" height="33" fill="#c0c0c0"/>
<rect x="879" y="532" width="3" height="32" fill="#c0c0c0"/>
<rect x="883" y="532" width="3" height="31" fill="#c0c0c0"/>
<rect x="887" y="532" width="3" height="30" fill="#c0c0c0"/>
<rect x="891" y="532" width="3" height="30" fill="#c0c0c0"/>
<rect x="895" y="532" width="3" height="28" fill="#c0c0c0"/>
<rect x="899" y="532" width="3" height="27" fill="#c0c0c0"/>
<rect x="903" y="532" width="3" height="26" fill="#c0c0c0"/>
<rect x="907" y="532" width="3" height="25" fill="#c0c0c0"/>
<rect x="911" y="532" width="3" height="22" fill="#c0c0c0"/>
<rect x="915" y="532" width="3" height="20" fill="#c0c0c0"/>
<rect x="919" y="532" width="3" height="17" fill="#c0c0c0"/>
<rect x="923" y="532" width="3" height="15" fill="#c0c0c0"/>
<g shape-rendering="crispEdges">
<path d="M4 537.5h1M5.5 535v2M6 534.5h1M7 533.5h1M8 532.5h1M9 531.5h1M10 530.5h1M11 529.5h1M12 528.5h1M13 527.5h1M14 526.5h1M15 525.5h1M16 524.5h1M17 523.5h2M19 522.5h1M20 521.5h1M21 520.5h1M22 519.5h2M24 518.5h1M25 517.5h1M26 516.5h2M28 515.5h2M30 514.5h2M32 513.5h4M36 512.5h5M41 511.5h11M52 510.5h8M60 509.5h8M68 508.5h15M83 507.5h8M91 506.5h7M98 505.5h7M105 504.5h12M117 503.5h4M121 502.5h4M125 501.5h4M129 500.5h4M133 499.5h4M137 498.5h2M139 497.5h3M142 496.5h4M146 495.5h20M166 496.5h6M172 497.5h4M176 498.5h6M182 499.5h5M187 498.5h6M193 497.5h4M197 496.5h4M201 495.5h4M205 494.5h4M209 493.5h12M221 494.5h6M227 495.5h4M231 496.5h2M233 497.5h2M235 498.5h3M238 499.5h1M239 500.5h2M241 501.5h2M243 502.5h2M245 503.5h3M248 504.5h2M250 505.5h3M253 506.5h2M255 507.5h3M258 508.5h2M260 509.5h2M262 510.5h3M265 511.5h3M268 512.5h2M270 513.5h3M273 514.5h3M276 515.5h3M279 516.5h2M281 517.5h1M282 518.5h2M284 519.5h2M286 520.5h2M288 521.5h1M289 522.5h2M291 523.5h1M292 524.5h2M294 525.5h1M295 526.5h2M297 527.5h1M298 528.5h2M300 529.5h1M301 530.5h3M304 531.5h2M306 532.5h3M309 533.5h4M313 534.5h9M322 533.5h2M324 532.5h1M325 531.5h2M327 530.5h2M329 529.5h2M331 528.5h2M333 527.5h2M335 526.5h3M338 525.5h2M340 524.5h3M343 523.5h2M345 522.5h3M348 521.5h2M350 520.5h3M353 519.5h2M355 518.5h2M357 517.5h2M359 516.5h2M361 515.5h2M363 514.5h2M365 513.5h2M367 512.5h1M368 511.5h2M370 510.5h3M373 509.5h15M388 510.5h5M393 511.5h2M395 512.5h1M396 513.5h2M398 514.5h1M399 515.5h1M400 516.5h1M401 517.5h1M402 518.5h1M403 519.5h1M404 520.5h1M405 521.5h1M406 522.5h1M407 523.5h2M409 524.5h1M410 525.5h2M412 526.5h1M413 527.5h2M415 528.5h2M417 529.5h2M419 530.5h1M420 531.5h2M422 532.5h3M425 533.5h2M427 534.5h2M429 535.5h4M433 536.5h13M446 535.5h12M458 536.5h4M462 537.5h5M467 538.5h3M470 539.5h1M471 540.5h3M474 541.5h2M476 542.5h2M478 543.5h2M480 544.5h2M482 545.5h3M485 546.5h2M487 547.5h2M489 548.5h2M491 549.5h4M495 550.5h4M499 551.5h4M503 550.5h9M512 549.5h6M518 548.5h6M524 547.5h6M530 546.5h2M532 545.5h2M534 544.5h2M536 543.5h2M538 542.5h3M541 541.5h2M543 540.5h2M545 539.5h2M547 538.5h2M549 537.5h2M551 536.5h2M553 535.5h2M555 534.5h1M556 533.5h2M558 532.5h2M560 531.5h1M561 530.5h2M563 529.5h2M565 528.5h2M567 527.5h2M569 526.5h2M571 525.5h2M573 524.5h2M575 523.5h2M577 522.5h4M581 521.5h19M600 522.5h6M606 523.5h10M616 522.5h4M620 521.5h11M631 520.5h9M640 519.5h9M649 520.5h5M654 521.5h2M656 522.5h3M659 523.5h3M662 524.5h3M665 525.5h3M668 526.5h4M672 527.5h4M676 528.5h3M679 529.5h3M682 530.5h2M684 531.5h3M687 532.5h4M691 533.5h4M695 534.5h7M702 535.5h7M709 536.5h14M723 535.5h10M733 536.5h18M751 537.5h3M754 538.5h2M756 539.5h2M758 540.5h2M760 541.5h1M761 542.5h2M763 543.5h1M764 544.5h1M765 545.5h1M766 546.5h1M767 547.5h2M769 548.5h1M770 549.5h2M772 550.5h2M774 551.5h2M776 552.5h2M778 553.5h2M780 554.5h2M782 555.5h1M783 556.5h2M785 557.5h4M789 558.5h37M826 559.5h7M833 558.5h7M840 557.5h21M861 558.5h7M868 559.5h4M872 560.5h5M877 561.5h3M880 562.5h12M892 563.5h2M894 562.5h4M898 561.5h4M902 560.5h4M906 559.5h3M909 558.5h4M913 557.5h3M916 556.5h3M919 555.5h2M921 554.5h2" fill="none" stroke="#ff0000" stroke-width="1"/>
</g>
<g shape-rendering="crispEdges">
<path d="M4 601.5h1M5 602.5h2M7 603.5h2M9 604.5h2M11 605.5h6M17 606.5h2M19 607.5h1M20 608.5h1M21 607.5h2M23 606.5h2M25.5 604v2M26 603.5h1M27 602.5h1M28 601.5h1M29 602.5h2M31 603.5h4M35 602.5h1M36.5 602v2M37 604.5h1M38.5 605v2M39.5 607v2M40 609.5h1M41 608.5h1M42 607.5h2M44 606.5h5M49 607.5h1M50 608.5h1M51 609.5h1M52.5 609v2M53 608.5h1M54.5 606v2M55 605.5h1M56 604.5h5M61 603.5h4M65 602.5h2M67 601.5h4M71 602.5h2M73 603.5h2M75 604.5h2M77 605.5h1M78 606.5h2M80 607.5h1M81 606.5h1M82 605.5h2M84 604.5h1M85.5 602v2M86 601.5h1M87 600.5h1M88 599.5h2M90 600.5h2M92 601.5h1M93 600.5h8M101 601.5h1M102.5 602v2M103 604.5h1M104 605.5h1M105 604.5h1M106 603.5h1M107 602.5h1M108 601.5h1M109 600.5h1M110 599.5h1M111 598.5h1M112 597.5h2M114 596.5h12M126 595.5h4M130 594.5h3M133 593.5h1M134 592.5h1M135 591.5h1M136 590.5h2M138 591.5h2M140 592.5h4M144.5 592v2M145.5 594v2M146.5 596v3M147.5 599v2M148.5 601v2M149.5 603v2M150 605.5h1M151.5 606v2M152.5 607v2M153 606.5h1M154 605.5h1M155 604.5h1M156 603.5h1M157 602.5h8M165 603.5h1M166 604.5h1M167 605.5h1M168 606.5h1M169 605.5h1M170 604.5h1M171 603.5h1M172 602.5h1M173.5 600v2M174 599.5h1M175 598.5h1M176 597.5h1M177 596.5h2M179 595.5h2M181 596.5h1M182 597.5h1M183 598.5h1M184 599.5h3M187 600.5h2M189 599.5h1M190 598.5h2M192 597.5h1M193 596.5h2M195 595.5h3M198 596.5h1M199 597.5h4M203 596.5h2M205 597.5h1M206 598.5h1M207 599.5h1M208.5 600v2M209.5 602v2M210.5 604v2M211.5 606v2M212 608.5h1M213 607.5h1M214 606.5h2M216 605.5h2M218 604.5h3M221 603.5h2M223 602.5h1M224.5 602v2M225.5 604v2M226.5 606v2M227.5 608v2M228 610.5h2M230 609.5h3M233 610.5h2M235 611.5h1M236 612.5h1M237 611.5h1M238 610.5h2M240 609.5h1M241 608.5h2M243 607.5h1M244 606.5h3M247 605.5h2M249 606.5h1M250 607.5h1M251.5 608v2M252 610.5h4M256 611.5h4M260 612.5h1M261 611.5h1M262 610.5h1M263 609.5h1M264.5 608v2M265 610.5h1M266.5 611v2M267.5 613v2M268 615.5h2M270 616.5h2M272 617.5h2M274 616.5h3M277 617.5h1M278 618.5h1M279 619.5h1M280 620.5h2M282 621.5h1M283 622.5h2M285 623.5h1M286 624.5h2M288 625.5h1M289 624.5h1M290 623.5h1M291 622.5h1M292 621.5h3M295 622.5h1M296.5 621v2M297.5 619v2M298 618.5h1M299.5 616v2M300 615.5h2M302 614.5h3M305 613.5h1M306 612.5h1M307 611.5h1M308 610.5h2M310 609.5h4M314 608.5h3M317 607.5h1M318 606.5h2M320 605.5h2M322 606.5h2M324 607.5h1M325 606.5h4M329 605.5h2M331 604.5h4M335 605.5h2M337.5 606v2M338 608.5h1M339.5 609v2M340 611.5h2M342 610.5h2M344.5 609v2M345.5 606v3M346.5 604v2M347.5 601v3M348 600.5h2M350 599.5h3M353 598.5h2M355 597.5h6M361 596.5h3M364 595.5h2M366 594.5h2M368.5 593v4M369.5 597v6M370.5 603v6M371.5 609v6M372.5 615v3M373 618.5h2M375 619.5h1M376.5 619v2M377 618.5h1M378.5 616v2M379 615.5h1M380 614.5h1M381 613.5h2M383 612.5h7M390 613.5h2M392.5 613v2M393.5 615v2M394.5 617v3M395.5 620v2M396.5 622v2M397 622.5h2M399 621.5h4M403 622.5h2M405 621.5h2M407 620.5h1M408 619.5h2M410 618.5h3M413 617.5h1M414 616.5h1M415 615.5h1M416 614.5h3M419 615.5h3M422 614.5h3M425 615.5h2M427 616.5h1M428 617.5h1M429 616.5h2M431 615.5h2M433 616.5h1M434 617.5h1M435 618.5h1M436.5 618v2M437.5 616v2M438.5 614v2M439.5 612v2M440 611.5h1M441 612.5h1M442 613.5h1M443 614.5h1M444 615.5h9M453.5 616v2M454 618.5h1M455.5 619v2M456 621.5h1M457 622.5h1M458 623.5h1M459 624.5h1M460 625.5h1M461 626.5h1M462 627.5h2M464.5 627v2M465 626.5h1M466.5 624v2M467 623.5h1M468 622.5h3M471 623.5h2M473 622.5h2M475 621.5h3M478 622.5h2M480 623.5h10M490 622.5h5M495 623.5h1M496.5 622v2M497 621.5h1M498.5 619v2M499 618.5h1M500 617.5h1M501 616.5h4M505 617.5h1M506 618.5h1M507 619.5h1M508 620.5h1M509 619.5h2M511 618.5h5M516 619.5h3M519 620.5h6M525 619.5h3M528.5 617v2M529.5 614v3M530.5 611v3M531.5 609v2M532.5 607v2M533 607.5h1M534 606.5h4M538 607.5h2M540 608.5h5M545 607.5h1M546 606.5h2M548 605.5h1M549 606.5h2M551 607.5h1M552 608.5h1M553 607.5h2M555 606.5h2M557 607.5h1M558.5 608v2M559 610.5h1M560 611.5h1M561 610.5h2M563 609.5h2M565 608.5h2M567 607.5h2M569 606.5h1M570 605.5h1M571 604.5h1M572 603.5h1M573 604.5h1M574 605.5h1M575 606.5h1M576 607.5h4M580 608.5h4M584 609.5h1M585.5 610v2M586.5 612v2M587.5 614v2M588 616.5h3M591 617.5h1M592.5 616v2M593.5 614v2M594 613.5h1M595.5 611v2M596.5 610v2M597.5 612v2M598.5 614v2M599.5 616v2M600.5 618v2M601.5 616v2M602.5 614v2M603 613.5h1M604 612.5h1M605 611.5h2M607 610.5h1M608.5 609v2M609.5 607v2M610.5 605v2M611 604.5h1M612 603.5h2M614 604.5h2M616 605.5h1M617 604.5h2M619 603.5h3M622 604.5h1M623 605.5h1M624.5 606v2M625.5 608v2M626.5 610v3M627.5 613v3M628.5 616v2M629 617.5h2M631 618.5h2M633.5 616v2M634 615.5h1M635 614.5h1M636 613.5h1M637 612.5h5M642 613.5h2M644 614.5h1M645 613.5h4M649 614.5h2M651 615.5h1M652 616.5h1M653 615.5h1M654 614.5h2M656 613.5h1M657 614.5h1M658.5 615v2M659 617.5h1M660 618.5h6M666 617.5h8M674 616.5h5M679 617.5h2M681 618.5h1M682 619.5h1M683 620.5h1M684 621.5h2M686 620.5h3M689 619.5h1M690 618.5h1M691 617.5h1M692 616.5h1M693 615.5h1M694 614.5h1M695 613.5h5M700.5 614v2M701.5 616v2M702.5 618v3M703.5 621v3M704.5 624v2M705.5 621v3M706.5 619v2M707.5 616v3M708 615.5h5M713 614.5h2M715 613.5h4M719 614.5h2M721 615.5h3M724 616.5h1M725 615.5h2M727 614.5h2M729.5 615v2M730 617.5h1M731.5 618v2M732 620.5h2M734 619.5h3M737 618.5h2M739 617.5h2M741 618.5h1M742 619.5h1M743 620.5h1M744 621.5h1M745 620.5h1M746 619.5h1M747 618.5h1M748.5 617v2M749.5 619v3M750.5 622v3M751.5 625v3M752.5 628v2M753 629.5h1M754 630.5h1M755 631.5h1M756 632.5h5M761 631.5h1M762 630.5h2M764 629.5h4M768.5 628v2M769.5 626v2M770 625.5h1M771.5 623v2M772 622.5h3M775 623.5h2M777 622.5h1M778 621.5h2M780 620.5h4M784 621.5h3M787 622.5h2M789 623.5h1M790 624.5h1M791.5 625v2M792 627.5h4M796 628.5h2M798 629.5h2M800 630.5h1M801 629.5h1M802 628.5h1M803 627.5h1M804 626.5h1M805 625.5h1M806 624.5h1M807 623.5h1M808 622.5h5M813 623.5h2M815 624.5h1M816 625.5h3M819 626.5h2M821 627.5h1M822 628.5h1M823 629.5h1M824.5 629v2M825 628.5h1M826.5 626v2M827 625.5h1M828 624.5h1M829 623.5h11M840 624.5h4M844 625.5h2M846 626.5h1M847 627.5h1M848 628.5h2M850 629.5h2M852 630.5h4M856 631.5h1M857 632.5h1M858 633.5h1M859 634.5h1M860 635.5h3M863 636.5h1M864.5 635v2M865 634.5h1M866.5 632v2M867 631.5h1M868 630.5h2M870 629.5h11M881 628.5h1M882 627.5h1M883 626.5h1M884 625.5h2M886 626.5h2M888 627.5h2M890 628.5h2M892.5 628v2M893.5 625v3M894.5 623v2M895.5 621v2M896 620.5h1M897 621.5h1M898 622.5h1M899.5 623v2M900 625.5h2M902 626.5h2M904 627.5h1M905.5 625v2M906 624.5h1M907 623.5h1M908 622.5h1M909 621.5h1M910 620.5h1M911 619.5h5M916 620.5h1M917 619.5h1M918 618.5h1M919 617.5h1M920 616.5h5" fill="none" stroke="#1e90ff" stroke-width="1"/>
</g>
<g shape-rendering="crispEdges" fill="#000">
<rect x="3" y="23" width="1164" height="1" fill="#000"/>
<rect x="3" y="483" width="1164" height="1" fill="#000"/>
<rect x="3" y="23" width="1" height="461" fill="#000"/>
<rect x="1166" y="23" width="1" height="461" fill="#000"/>
<rect x="3" y="485" width="1164" height="1" fill="#000"/>
<rect x="3" y="569" width="1164" height="1" fill="#000"/>
<rect x="3" y="485" width="1" height="85" fill="#000"/>
<rect x="1166" y="485" width="1" height="85" fill="#000"/>
<rect x="3" y="571" width="1164" height="1" fill="#000"/>
<rect x="3" y="658" width="1164" height="1" fill="#000"/>
<rect x="3" y="571" width="1" height="88" fill="#000"/>
<rect x="1166" y="571" width="1" height="88" fill="#000"/>
<rect x="1166" y="200" width="1" height="2" fill="#ff0000"/>
<rect x="1166" y="280" width="1" height="2" fill="#ff0000"/>
<rect x="1166" y="373" width="1" height="2" fill="#00ff00"/>
<rect x="1166" y="459" width="1" height="2" fill="#0000ff"/>
<rect x="3" y="371" width="6" height="6" fill="#00ff00"/>
<rect x="5" y="373" width="2" height="2" fill="#ffffff"/>
<rect x="3" y="457" width="6" height="6" fill="#0000ff"/>
<rect x="5" y="459" width="2" height="2" fill="#ffffff"/>
<rect x="1167" y="51" width="2" height="1" fill="#000"/>
<rect x="1167" y="84" width="2" height="1" fill="#000"/>
<rect x="1167" y="117" width="2" height="1" fill="#000"/>
<rect x="1167" y="150" width="2" height="1" fill="#000"/>
<rect x="1167" y="183" width="2" height="1" fill="#000"/>
<rect x="1167" y="216" width="2" height="1" fill="#000"/>
<rect x="1167" y="249" width="2" height="1" fill="#000"/>
<rect x="1167" y="282" width="2" height="1" fill="#000"/>
<rect x="1167" y="315" width="2" height="1" fill="#000"/>
<rect x="1167" y="348" width="2" height="1" fill="#000"/>
<rect x="1167" y="381" width="2" height="1" fill="#000"/>
<rect x="1167" y="414" width="2" height="1" fill="#000"/>
<rect x="1167" y="447" width="2" height="1" fill="#000"/>
<rect x="1167" y="480" width="2" height="1" fill="#000"/>
<rect x="1167" y="532" width="2" height="1" fill="#000"/>
<rect x="1167" y="598" width="2" height="1" fill="#000"/>
<rect x="1167" y="632" width="2" height="1" fill="#000"/>
<rect x="1167" y="487" width="1" height="1" fill="#000"/>
<rect x="1167" y="568" width="1" height="1" fill="#000"/>
<rect x="1167" y="573" width="1" height="1" fill="#000"/>
<rect x="1167" y="656" width="1" height="1" fill="#000"/>
<rect x="4" y="659" width="1" height="3" fill="#000"/>
<rect x="68" y="659" width="1" height="3" fill="#000"/>
<rect x="132" y="659" width="1" height="3" fill="#000"/>
<rect x="196" y="659" width="1" height="3" fill="#000"/>
<rect x="260" y="659" width="1" height="3" fill="#000"/>
<rect x="324" y="659" width="1" height="3" fill="#000"/>
<rect x="388" y="659" width="1" height="3" fill="#000"/>
<rect x="452" y="659" width="1" height="3" fill="#000"/>
<rect x="516" y="659" width="1" height="3" fill="#000"/>
<rect x="580" y="659" width="1" height="3" fill="#000"/>
<rect x="644" y="659" width="1" height="3" fill="#000"/>
<rect x="708" y="659" width="1" height="3" fill="#000"/>
<rect x="772" y="659" width="1" height="3" fill="#000"/>
<rect x="836" y="659" width="1" height="3" fill="#000"/>
<rect x="900" y="659" width="1" height="3" fill="#000"/>
</g>
</svg>
<div id="tri"></div>
<div id="sellb"></div><div id="buyb"></div><div id="sellp"></div><div id="buyp"></div>
<div class="pl" style="left:11px;width:44px"></div><div class="pl" style="left:178px;width:44px"></div>
<div id="spin"></div>
<div class="sbtn" style="left:62px"></div><div class="sbtn" style="left:151px"></div><div class="ssep" style="left:82px"></div><div class="ssep" style="left:150px"></div>
<svg width="1206" height="705" viewBox="0 0 1206 705" style="pointer-events:none">
<path d="M69 52h5v1h-1v1h-1v1h-1v-1h-1v-1h-1z" fill="#4462c4" shape-rendering="crispEdges"/>
<path d="M158 55h5v-1h-1v-1h-1v-1h-1v1h-1v1h-1z" fill="#4462c4" shape-rendering="crispEdges"/>
</svg>
<div id="tabbar"></div><div id="tabgap"></div><div id="tabline"></div><div id="tabhl"></div><div id="tabbot"></div>
<div id="atab"></div><div id="atabtop"></div>
<div class="sep" style="left:301px"></div>
<div class="sep" style="left:405px"></div>
<div class="sep" style="left:509px"></div>
<div class="sep" style="left:585px"></div>
<div class="sep" style="left:653px"></div>
<div class="sep" style="left:729px"></div>
<div class="sep" style="left:821px"></div>
<div class="sep" style="left:913px"></div>
<div class="t" style="left:1171.59px;top:46.53px;font-size:10px;line-height:12.0px;transform-origin:0 0;transform:scaleX(0.9210);">0.79965</div>
<div class="t" style="left:1171.59px;top:79.53px;font-size:10px;line-height:12.0px;transform-origin:0 0;transform:scaleX(0.9210);">0.79365</div>
<div class="t" style="left:1171.59px;top:112.53px;font-size:10px;line-height:12.0px;transform-origin:0 0;transform:scaleX(0.9210);">0.78750</div>
<div class="t" style="left:1171.59px;top:145.53px;font-size:10px;line-height:12.0px;transform-origin:0 0;transform:scaleX(0.9210);">0.78135</div>
<div class="t" style="left:1171.59px;top:178.53px;font-size:10px;line-height:12.0px;transform-origin:0 0;transform:scaleX(0.9210);">0.77535</div>
<div class="t" style="left:1171.59px;top:211.53px;font-size:10px;line-height:12.0px;transform-origin:0 0;transform:scaleX(0.9210);">0.76920</div>
<div class="t" style="left:1171.59px;top:244.53px;font-size:10px;line-height:12.0px;transform-origin:0 0;transform:scaleX(0.9210);">0.76305</div>
<div class="t" style="left:1171.59px;top:277.54px;font-size:10px;line-height:12.0px;transform-origin:0 0;transform:scaleX(0.9210);">0.75705</div>
<div class="t" style="left:1171.59px;top:310.54px;font-size:10px;line-height:12.0px;transform-origin:0 0;transform:scaleX(0.9210);">0.75090</div>
<div class="t" style="left:1171.59px;top:343.54px;font-size:10px;line-height:12.0px;transform-origin:0 0;transform:scaleX(0.9210);">0.74490</div>
<div class="t" style="left:1171.59px;top:376.54px;font-size:10px;line-height:12.0px;transform-origin:0 0;transform:scaleX(0.9210);">0.73875</div>
<div class="t" style="left:1171.59px;top:409.54px;font-size:10px;line-height:12.0px;transform-origin:0 0;transform:scaleX(0.9210);">0.73260</div>
<div class="t" style="left:1171.59px;top:442.54px;font-size:10px;line-height:12.0px;transform-origin:0 0;transform:scaleX(0.9210);">0.72660</div>
<div class="t" style="left:1171.59px;top:475.54px;font-size:10px;line-height:12.0px;transform-origin:0 0;transform:scaleX(0.9210);">0.72045</div>
<div class="t" style="left:1169.78px;top:487.54px;font-size:10px;line-height:12.0px;transform-origin:0 0;transform:scaleX(0.9372);">0.008903</div>
<div class="t" style="left:1169.77px;top:527.53px;font-size:10px;line-height:12.0px;transform-origin:0 0;transform:scaleX(0.9554);">0.00</div>
<div class="t" style="left:1169.59px;top:557.53px;font-size:10px;line-height:12.0px;transform-origin:0 0;transform:scaleX(0.9092);">-0.00697</div>
<div class="t" style="left:1170.18px;top:573.53px;font-size:10px;line-height:12.0px;transform-origin:0 0;transform:scaleX(0.9228);">100</div>
<div class="t" style="left:1169.39px;top:593.53px;font-size:10px;line-height:12.0px;transform-origin:0 0;transform:scaleX(0.9169);">70</div>
<div class="t" style="left:1169.39px;top:627.53px;font-size:10px;line-height:12.0px;transform-origin:0 0;transform:scaleX(0.9169);">30</div>
<div class="t" style="left:1169.78px;top:646.53px;font-size:10px;line-height:12.0px;transform-origin:0 0;transform:scaleX(0.9348);">0</div>
<div class="t" style="left:2.67px;top:662.53px;font-size:10px;line-height:12.0px;transform-origin:0 0;transform:scaleX(0.9657);">9 Nov 2020</div>
<div class="t" style="left:66.67px;top:662.53px;font-size:10px;line-height:12.0px;transform-origin:0 0;transform:scaleX(0.9574);">27 Nov 2020</div>
<div class="t" style="left:130.68px;top:662.53px;font-size:10px;line-height:12.0px;transform-origin:0 0;transform:scaleX(0.9239);">16 Dec 2020</div>
<div class="t" style="left:194.68px;top:662.53px;font-size:10px;line-height:12.0px;transform-origin:0 0;transform:scaleX(0.9232);">6 Jan 2021</div>
<div class="t" style="left:258.70px;top:662.53px;font-size:10px;line-height:12.0px;transform-origin:0 0;transform:scaleX(0.8972);">25 Jan 2021</div>
<div class="t" style="left:322.68px;top:662.53px;font-size:10px;line-height:12.0px;transform-origin:0 0;transform:scaleX(0.9275);">12 Feb 2021</div>
<div class="t" style="left:386.68px;top:662.53px;font-size:10px;line-height:12.0px;transform-origin:0 0;transform:scaleX(0.9389);">3 Mar 2021</div>
<div class="t" style="left:450.68px;top:662.53px;font-size:10px;line-height:12.0px;transform-origin:0 0;transform:scaleX(0.9242);">22 Mar 2021</div>
<div class="t" style="left:514.67px;top:662.53px;font-size:10px;line-height:12.0px;transform-origin:0 0;transform:scaleX(0.9592);">9 Apr 2021</div>
<div class="t" style="left:578.68px;top:662.53px;font-size:10px;line-height:12.0px;transform-origin:0 0;transform:scaleX(0.9400);">28 Apr 2021</div>
<div class="t" style="left:642.68px;top:662.53px;font-size:10px;line-height:12.0px;transform-origin:0 0;transform:scaleX(0.9269);">17 May 2021</div>
<div class="t" style="left:706.69px;top:662.53px;font-size:10px;line-height:12.0px;transform-origin:0 0;transform:scaleX(0.9131);">4 Jun 2021</div>
<div class="t" style="left:770.69px;top:662.53px;font-size:10px;line-height:12.0px;transform-origin:0 0;transform:scaleX(0.9062);">23 Jun 2021</div>
<div class="t" style="left:834.69px;top:662.53px;font-size:10px;line-height:12.0px;transform-origin:0 0;transform:scaleX(0.9068);">12 Jul 2021</div>
<div class="t" style="left:898.69px;top:662.53px;font-size:10px;line-height:12.0px;transform-origin:0 0;transform:scaleX(0.9030);">30 Jul 2021</div>
<div class="t" style="left:19.47px;top:26.54px;font-size:10px;line-height:12.0px;transform-origin:0 0;transform:scaleX(0.9608);">AUDUSD,Daily</div>
<div class="t" style="left:90.68px;top:26.54px;font-size:10px;line-height:12.0px;transform-origin:0 0;transform:scaleX(0.9259);">0.74077 0.74081 0.73991 0.74028</div>
<div class="t" style="left:8.08px;top:489.54px;font-size:10px;line-height:12.0px;transform-origin:0 0;transform:scaleX(0.9414);">MACD(12,26,9)</div>
<div class="t" style="left:77.60px;top:489.54px;font-size:10px;line-height:12.0px;transform-origin:0 0;transform:scaleX(0.8924);">-0.002681</div>
<div class="t" style="left:121.59px;top:489.54px;font-size:10px;line-height:12.0px;transform-origin:0 0;transform:scaleX(0.9124);">-0.004135</div>
<div class="t" style="left:8.18px;top:575.53px;font-size:10px;line-height:12.0px;transform-origin:0 0;transform:scaleX(0.9252);">RSI(14) 48.4093</div>
<div class="t" style="left:1.12px;top:2.54px;font-size:10px;line-height:12.0px;transform-origin:0 0;transform:scaleX(0.8449);color:#3c3c3c">5</div>
<div class="t" style="left:15.38px;top:2.54px;font-size:10px;line-height:12.0px;transform-origin:0 0;transform:scaleX(0.9407);color:#3c3c3c">M30</div>
<div class="t" style="left:46.37px;top:2.54px;font-size:10px;line-height:12.0px;transform-origin:0 0;transform:scaleX(0.9455);color:#3c3c3c">H1</div>
<div class="t" style="left:73.34px;top:2.54px;font-size:10px;line-height:12.0px;transform-origin:0 0;transform:scaleX(1.0159);color:#3c3c3c">H4</div>
<div class="t" style="left:102.37px;top:2.54px;font-size:10px;line-height:12.0px;transform-origin:0 0;transform:scaleX(0.9455);color:#3c3c3c">D1</div>
<div class="t" style="left:129.76px;top:2.54px;font-size:10px;line-height:12.0px;transform-origin:0 0;transform:scaleX(0.9800);color:#3c3c3c">W1</div>
<div class="t" style="left:156.27px;top:2.54px;font-size:10px;line-height:12.0px;transform-origin:0 0;transform:scaleX(0.9639);color:#3c3c3c">MN</div>
<div class="t" style="left:16.86px;top:685.47px;font-size:12.2px;line-height:14.2px;transform-origin:0 0;transform:scaleX(0.9781);color:#6e6e6e;-webkit-text-stroke:0.1px">EURUSD,H4</div>
<div class="t" style="left:210.65px;top:685.47px;font-size:12.2px;line-height:14.2px;transform-origin:0 0;transform:scaleX(0.9974);color:#6e6e6e;-webkit-text-stroke:0.1px">USDCHF,Daily</div>
<div class="t" style="left:311.65px;top:685.47px;font-size:12.2px;line-height:14.2px;transform-origin:0 0;transform:scaleX(0.9932);color:#6e6e6e;-webkit-text-stroke:0.1px">USDCAD,Daily</div>
<div class="t" style="left:414.85px;top:685.47px;font-size:12.2px;line-height:14.2px;transform-origin:0 0;transform:scaleX(1.0069);color:#6e6e6e;-webkit-text-stroke:0.1px">USDCNH,Daily</div>
<div class="t" style="left:520.84px;top:685.47px;font-size:12.2px;line-height:14.2px;transform-origin:0 0;transform:scaleX(1.0177);color:#6e6e6e;-webkit-text-stroke:0.1px">UKOil,H1</div>
<div class="t" style="left:594.75px;top:685.47px;font-size:12.2px;line-height:14.2px;transform-origin:0 0;transform:scaleX(0.9932);color:#6e6e6e;-webkit-text-stroke:0.1px">DJ30,H1</div>
<div class="t" style="left:664.96px;top:685.47px;font-size:12.2px;line-height:14.2px;transform-origin:0 0;transform:scaleX(0.9900);color:#6e6e6e;-webkit-text-stroke:0.1px">USDX,H1</div>
<div class="t" style="left:739.45px;top:685.47px;font-size:12.2px;line-height:14.2px;transform-origin:0 0;transform:scaleX(0.9976);color:#6e6e6e;-webkit-text-stroke:0.1px">XAUUSD,H1</div>
<div class="t" style="left:832.27px;top:685.47px;font-size:12.2px;line-height:14.2px;transform-origin:0 0;transform:scaleX(0.9696);color:#6e6e6e;-webkit-text-stroke:0.1px">GBPUSD,H1</div>
<div class="t" style="left:108.05px;top:685.47px;font-size:12.2px;line-height:14.2px;transform-origin:0 0;transform:scaleX(1.0018);color:#000;-webkit-text-stroke:0.1px">AUDUSD,Daily</div>
<div class="t" style="left:122.85px;top:46.84px;font-size:12px;line-height:14.0px;transform-origin:0 0;transform:scaleX(1.0266);-webkit-text-stroke:0.1px">3.00</div>
<div style="left:1168px;top:195px;width:38px;height:11px;background:#ff0000"></div>
<div style="left:1168px;top:275px;width:38px;height:11px;background:#ff0000"></div>
<div style="left:1168px;top:368px;width:38px;height:11px;background:#00ff00"></div>
<div style="left:1168px;top:454px;width:38px;height:11px;background:#0000ff"></div>
<div class="t" style="left:1171.59px;top:195.53px;font-size:10px;line-height:12.0px;transform-origin:0 0;transform:scaleX(0.9210);color:#fff">0.77200</div>
<div class="t" style="left:1171.59px;top:275.54px;font-size:10px;line-height:12.0px;transform-origin:0 0;transform:scaleX(0.9210);color:#fff">0.75716</div>
<div class="t" style="left:1171.59px;top:368.54px;font-size:10px;line-height:12.0px;transform-origin:0 0;transform:scaleX(0.9210);color:#fff">0.74007</div>
<div class="t" style="left:1171.58px;top:454.54px;font-size:10px;line-height:12.0px;transform-origin:0 0;transform:scaleX(0.9405);color:#fff">0.72411</div>
<div class="t" style="left:19.11px;top:47.84px;font-size:12px;line-height:14.0px;transform-origin:0 0;transform:scaleX(0.8985);color:#fff;-webkit-text-stroke:0">SELL</div>
<div class="t" style="left:187.09px;top:47.84px;font-size:12px;line-height:14.0px;transform-origin:0 0;transform:scaleX(0.9511);color:#fff;-webkit-text-stroke:0">BUY</div>
<div class="t" style="left:26.42px;top:83.84px;font-size:12px;line-height:14.0px;transform-origin:0 0;transform:scaleX(1.0737);font-weight:bold;color:#fff;-webkit-text-stroke:0">0.74</div>
<div class="t" style="left:136.42px;top:83.84px;font-size:12px;line-height:14.0px;transform-origin:0 0;transform:scaleX(1.0737);font-weight:bold;color:#fff;-webkit-text-stroke:0">0.74</div>
<div class="t" style="left:53.64px;top:66.66px;font-size:33.6px;line-height:35.6px;transform-origin:0 0;transform:scaleX(0.9643);color:#fff;-webkit-text-stroke:0">03</div>
<div class="t" style="left:164.71px;top:66.66px;font-size:33.6px;line-height:35.6px;transform-origin:0 0;transform:scaleX(0.9857);color:#fff;-webkit-text-stroke:0">04</div>
<div class="t" style="left:94.10px;top:67.84px;font-size:12px;line-height:14.0px;transform-origin:0 0;transform:scaleX(1.1036);font-weight:bold;color:#fff;-webkit-text-stroke:0">1</div>
<div class="t" style="left:205.13px;top:67.84px;font-size:12px;line-height:14.0px;transform-origin:0 0;transform:scaleX(1.0587);font-weight:bold;color:#fff;-webkit-text-stroke:0">3</div>
<svg width="30" height="10" viewBox="1180 685 30 10" style="left:1180px;top:685px"><polygon points="1185,686.7 1185,693.3 1181.7,690" fill="#8a8a8a"/><polygon points="1201,686.7 1201,693.3 1204.3,690" fill="#8a8a8a"/></svg>
</body></html>
